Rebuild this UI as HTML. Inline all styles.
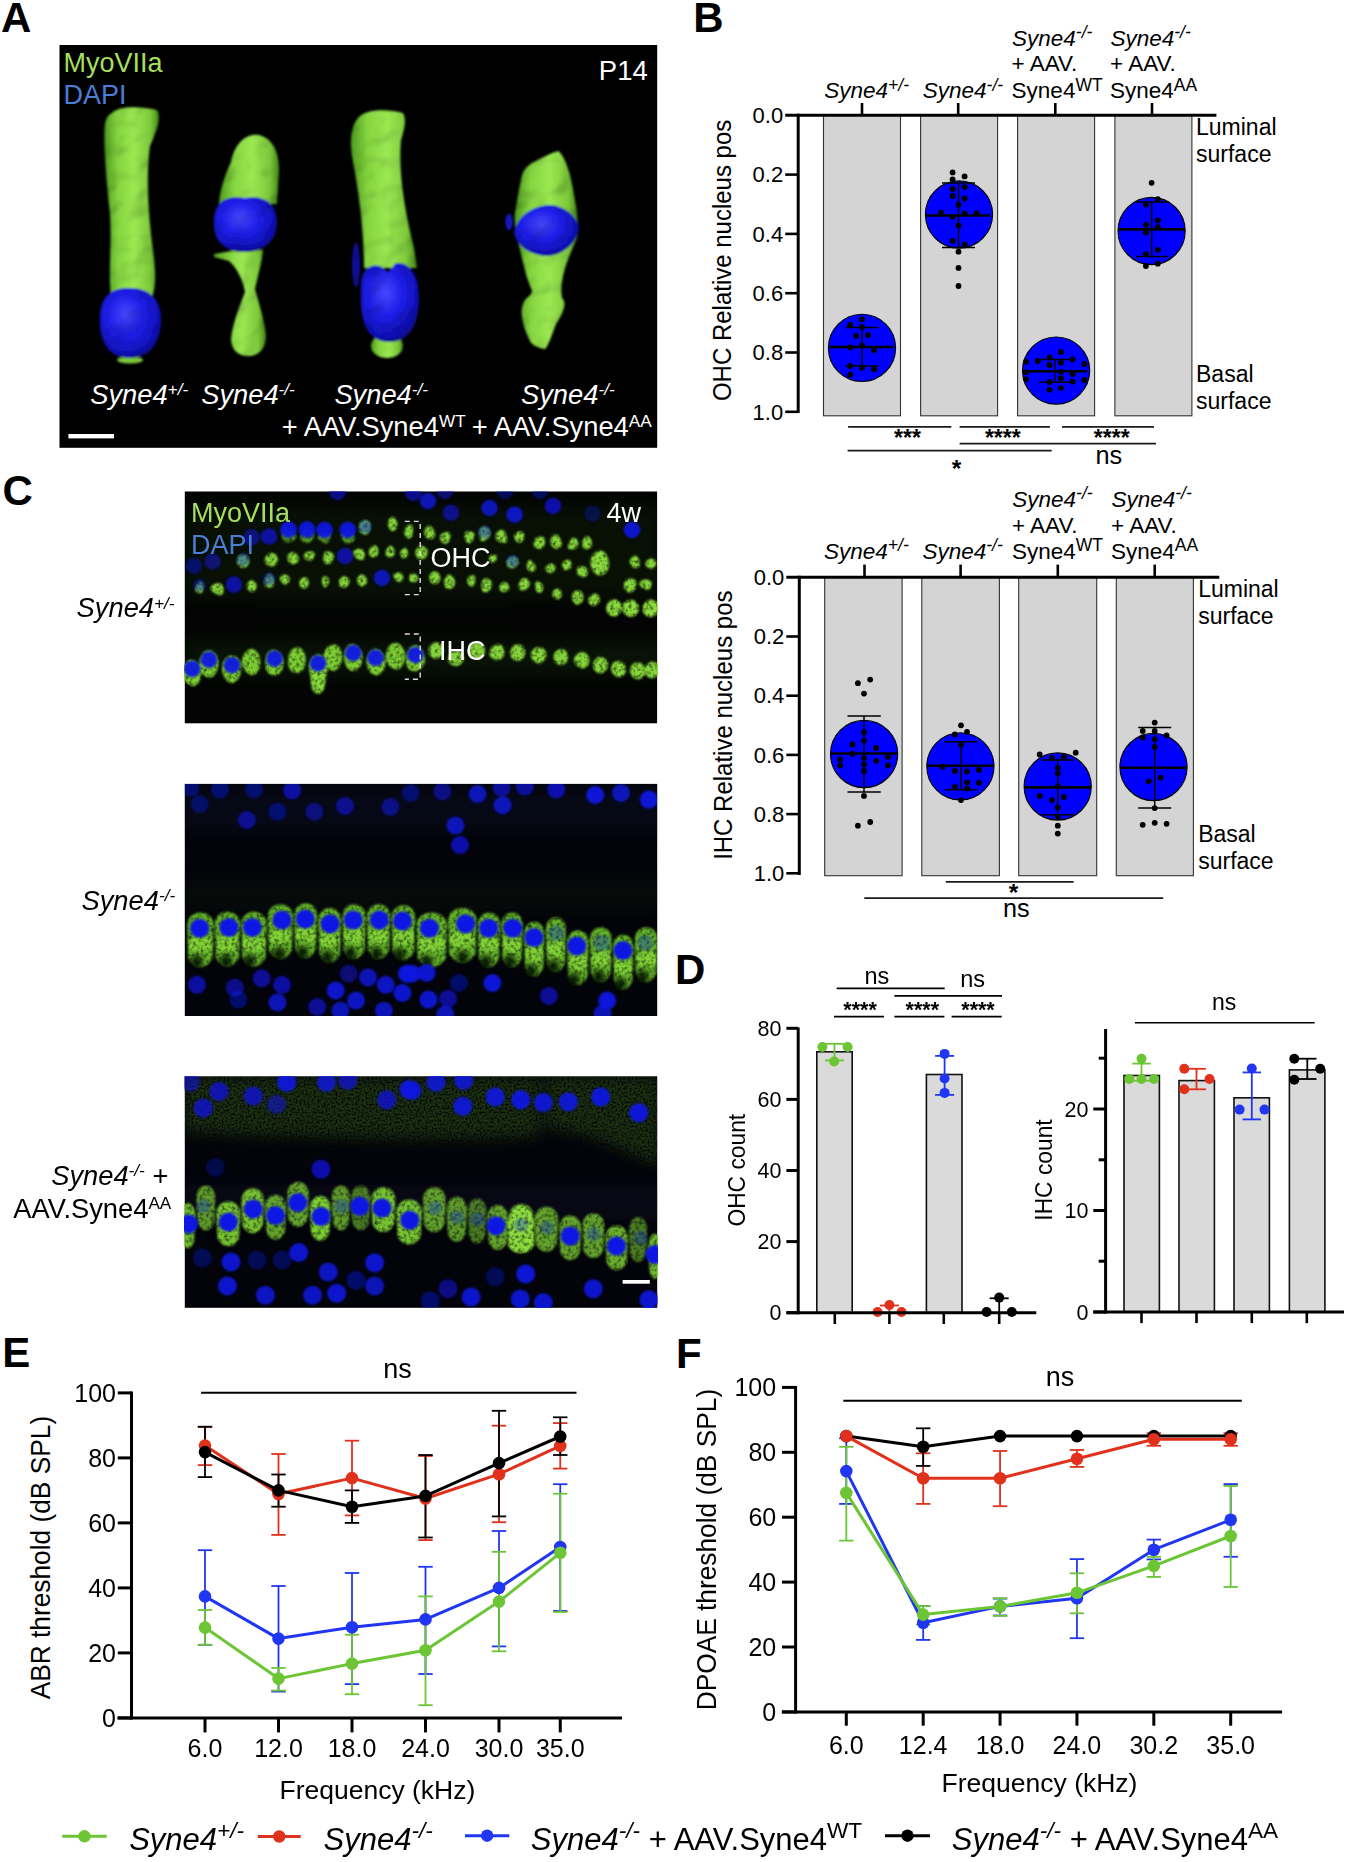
<!DOCTYPE html>
<html><head><meta charset="utf-8"><title>Figure</title>
<style>html,body{margin:0;padding:0;background:#fff;}svg{display:block;}text{font-family:"Liberation Sans", sans-serif;}</style>
</head><body>
<svg width="1350" height="1862" viewBox="0 0 1350 1862" font-family='"Liberation Sans", sans-serif'>
<defs>
<linearGradient id="gA" x1="0" y1="0" x2="1" y2="0">
<stop offset="0" stop-color="#4e9a1e"/><stop offset="0.25" stop-color="#86d640"/><stop offset="0.55" stop-color="#9be852"/><stop offset="0.85" stop-color="#7cc83a"/><stop offset="1" stop-color="#3f8416"/>
</linearGradient>
<radialGradient id="bA" cx="0.42" cy="0.38" r="0.65">
<stop offset="0" stop-color="#4747ff"/><stop offset="0.45" stop-color="#1e1ee8"/><stop offset="0.85" stop-color="#1010b8"/><stop offset="1" stop-color="#080880"/>
</radialGradient>
<filter id="soft" x="-20%" y="-20%" width="140%" height="140%"><feGaussianBlur stdDeviation="0.8"/></filter>
<filter id="bl1" x="-50%" y="-50%" width="200%" height="200%"><feGaussianBlur stdDeviation="1.2"/></filter>
<filter id="bl2" x="-50%" y="-50%" width="200%" height="200%"><feGaussianBlur stdDeviation="2.5"/></filter>
<filter id="bl4" x="-50%" y="-50%" width="200%" height="200%"><feGaussianBlur stdDeviation="5"/></filter>
<filter id="bl8" x="-50%" y="-50%" width="200%" height="200%"><feGaussianBlur stdDeviation="9"/></filter>
<radialGradient id="nucC" cx="0.5" cy="0.5" r="0.5">
<stop offset="0" stop-color="#2a2ae0"/><stop offset="0.8" stop-color="#2222d8"/><stop offset="1" stop-color="#1515a0"/>
</radialGradient>
<filter id="speck" x="0" y="0" width="1350" height="1862" filterUnits="userSpaceOnUse">
<feGaussianBlur in="SourceGraphic" stdDeviation="7" result="b"/>
<feTurbulence type="fractalNoise" baseFrequency="0.5" numOctaves="2" seed="5" result="n"/>
<feColorMatrix in="n" type="matrix" values="0 0 0 0 0  0 0 0 0 0  0 0 0 0 0  2.6 0 0 0 -0.6" result="m"/>
<feComposite in="b" in2="m" operator="in" result="c"/>
<feGaussianBlur in="c" stdDeviation="0.5"/>
</filter>
<filter id="speck2" x="0" y="0" width="1350" height="1862" filterUnits="userSpaceOnUse">
<feGaussianBlur in="SourceGraphic" stdDeviation="1.2" result="b"/>
<feTurbulence type="fractalNoise" baseFrequency="0.28" numOctaves="2" seed="9" result="n"/>
<feColorMatrix in="n" type="matrix" values="0 0 0 0 0  0 0 0 0 0  0 0 0 0 0  1.5 0 0 0 0.15" result="m"/>
<feComposite in="b" in2="m" operator="in"/>
</filter>
<filter id="bump" x="59" y="45" width="600" height="403" filterUnits="userSpaceOnUse">
<feTurbulence type="fractalNoise" baseFrequency="0.04" numOctaves="2" seed="4" result="t"/>
<feDiffuseLighting in="t" surfaceScale="4" diffuseConstant="1.2" lighting-color="#ffffff" result="l"><feDistantLight azimuth="235" elevation="55"/></feDiffuseLighting>
<feComposite in="SourceGraphic" in2="l" operator="arithmetic" k1="1" k2="0" k3="0" k4="0" result="m"/>
<feGaussianBlur in="m" stdDeviation="0.9"/>
</filter>
</defs>

<rect width="1350" height="1862" fill="#fff"/>
<text x="1.0" y="32.3" font-size="42" font-weight="bold" fill="#000">A</text>
<text x="693.3" y="32.0" font-size="42" font-weight="bold" fill="#000">B</text>
<text x="2.5" y="504.5" font-size="42" font-weight="bold" fill="#000">C</text>
<text x="675.0" y="984.0" font-size="42" font-weight="bold" fill="#000">D</text>
<text x="2.2" y="1367.3" font-size="42" font-weight="bold" fill="#000">E</text>
<text x="676.0" y="1367.6" font-size="42" font-weight="bold" fill="#000">F</text>
<rect x="59.5" y="45" width="597.7" height="402.8" fill="#000"/>
<g filter="url(#bump)">
<path d="M112,113 C118,106 140,106 157,110 C162,118 156,132 150,146 C146,175 148,215 153,250 C156,272 156,288 152,297 L111,297 C108,272 112,244 110,214 C106,176 103,140 105,124 C106,118 108,115 112,113 Z" fill="url(#gA)"/>
<ellipse cx="130" cy="360" rx="13" ry="3.5" fill="#7cc83a"/>
<path d="M100,318 C100,296 112,287 130,288 C150,288 162,300 161,322 C160,344 150,358 130,358 C110,358 99,344 100,318 Z" fill="url(#bA)"/>
<path d="M231,162 C235,142 247,133 259,135 C271,138 280,150 279,172 L277,204 L219,204 C220,188 226,173 231,162 Z" fill="url(#gA)"/>
<path d="M214,254 L232,251 L263,250 C262,262 258,275 255,289 C258,300 264,318 266,335 C266,350 258,356 248,356 C238,356 232,350 231,340 C232,325 240,305 245,292 C243,280 237,268 229,261 L214,257 Z" fill="url(#gA)"/>
<path d="M214,222 C214,202 226,195 245,198 C262,195 277,202 277,222 C277,242 264,252 245,252 C226,252 213,242 214,222 Z" fill="url(#bA)"/>
<path d="M358,118 C364,110 384,108 403,113 C407,120 404,130 401,140 C398,172 405,212 414,248 L417,268 L364,268 C364,232 359,192 353,162 C349,142 351,126 358,118 Z" fill="url(#gA)"/>
<ellipse cx="387" cy="346" rx="16" ry="12" fill="url(#gA)"/>
<ellipse cx="356" cy="265" rx="4" ry="22" fill="#10109a"/>
<path d="M361,290 C360,272 368,263 380,266 L388,272 L396,263 C410,262 419,275 419,298 C419,325 410,342 389,342 C370,342 361,326 361,300 Z" fill="url(#bA)"/>
<path d="M558.5,151 C566,158 571,175 574,195 C577,210 579,225 577,238 C572,250 566,262 563,276 C561,286 561,292 562,298 C567,303 564,312 556,324 C552,334 549,345 545,349 C538,348 532,345 530,341 C526,333 523,325 522,317 C521,310 522,305 525,300 C529,296 532,294 532,291 C529,283 526,276 525,270 C523,262 521,255 519,245 C516,232 514,222 515,213 C517,200 519,190 521,180 C522,172 526,166 534,162 C543,157 551,153 558.5,151 Z" fill="url(#gA)"/>
<ellipse cx="509" cy="222" rx="3.6" ry="8.5" fill="#1616c0"/>
<path d="M514,232 C518,214 536,205 550,205 C566,206 578,218 579,229 C576,244 562,256 546,256 C530,255 516,246 514,232 Z" fill="url(#bA)"/>
</g>
<text x="63.4" y="72.3" font-size="27" fill="#a6df5c">MyoVIIa</text>
<text x="63.4" y="103.7" font-size="27" fill="#4a7dd6">DAPI</text>
<text x="598.8" y="80.0" font-size="27.5" fill="#fff">P14</text>
<text x="90.2" y="403.6" font-size="27.3" fill="#fff"><tspan font-style="italic">Syne4</tspan><tspan font-style="italic" font-size="17.2" dy="-8.6">+/-</tspan></text>
<text x="201.2" y="403.6" font-size="27.3" fill="#fff"><tspan font-style="italic">Syne4</tspan><tspan font-style="italic" font-size="17.2" dy="-8.6">-/-</tspan></text>
<text x="334.4" y="403.6" font-size="27.3" fill="#fff"><tspan font-style="italic">Syne4</tspan><tspan font-style="italic" font-size="17.2" dy="-8.6">-/-</tspan></text>
<text x="521.0" y="403.6" font-size="27.3" fill="#fff"><tspan font-style="italic">Syne4</tspan><tspan font-style="italic" font-size="17.2" dy="-8.6">-/-</tspan></text>
<text x="281.8" y="435.9" font-size="27.3" fill="#fff"><tspan>+ AAV.</tspan><tspan>Syne4</tspan><tspan font-size="17.2" dy="-8.6">WT</tspan></text>
<text x="471.7" y="435.9" font-size="27.3" fill="#fff"><tspan>+ AAV.</tspan><tspan>Syne4</tspan><tspan font-size="17.2" dy="-8.6">AA</tspan></text>
<rect x="68.4" y="434" width="45.6" height="4.4" fill="#fff"/>
<rect x="823.5" y="115.3" width="77.0" height="300.5" fill="#d4d4d4" stroke="#333" stroke-width="1.1"/>
<rect x="920.6" y="115.3" width="77.0" height="300.5" fill="#d4d4d4" stroke="#333" stroke-width="1.1"/>
<rect x="1017.6" y="115.3" width="76.99999999999989" height="300.5" fill="#d4d4d4" stroke="#333" stroke-width="1.1"/>
<rect x="1114.9" y="115.3" width="77.0" height="300.5" fill="#d4d4d4" stroke="#333" stroke-width="1.1"/>
<circle cx="862" cy="347.9" r="33.6" fill="#0000ff" stroke="#000" stroke-width="1.1"/>
<line x1="830" y1="347" x2="893.5" y2="347" stroke="#000" stroke-width="2.6"/>
<line x1="862" y1="327.5" x2="862" y2="366" stroke="#000" stroke-width="1.5"/>
<line x1="845.5" y1="327.5" x2="878.6" y2="327.5" stroke="#000" stroke-width="1.5"/>
<line x1="845.5" y1="366" x2="878.6" y2="366" stroke="#000" stroke-width="1.5"/>
<circle cx="862" cy="319.2" r="2.9" fill="#000"/>
<circle cx="850.2" cy="324.8" r="2.9" fill="#000"/>
<circle cx="862" cy="327" r="2.9" fill="#000"/>
<circle cx="856.1" cy="335.8" r="2.9" fill="#000"/>
<circle cx="868" cy="335.1" r="2.9" fill="#000"/>
<circle cx="850.2" cy="347.4" r="2.9" fill="#000"/>
<circle cx="862" cy="345.7" r="2.9" fill="#000"/>
<circle cx="874" cy="350" r="2.9" fill="#000"/>
<circle cx="850.2" cy="366" r="2.9" fill="#000"/>
<circle cx="862" cy="367.7" r="2.9" fill="#000"/>
<circle cx="874" cy="369.3" r="2.9" fill="#000"/>
<circle cx="850.2" cy="374.7" r="2.9" fill="#000"/>
<circle cx="959" cy="214.5" r="33.6" fill="#0000ff" stroke="#000" stroke-width="1.1"/>
<line x1="925.9" y1="215.5" x2="990.2" y2="215.5" stroke="#000" stroke-width="2.6"/>
<line x1="958.5" y1="183" x2="958.5" y2="247.6" stroke="#000" stroke-width="1.5"/>
<line x1="942" y1="183" x2="975" y2="183" stroke="#000" stroke-width="1.5"/>
<line x1="942" y1="247.6" x2="975" y2="247.6" stroke="#000" stroke-width="1.5"/>
<circle cx="952.6" cy="172.4" r="2.9" fill="#000"/>
<circle cx="964.6" cy="176.4" r="2.9" fill="#000"/>
<circle cx="952.6" cy="179.5" r="2.9" fill="#000"/>
<circle cx="964.6" cy="187" r="2.9" fill="#000"/>
<circle cx="952.6" cy="189" r="2.9" fill="#000"/>
<circle cx="952.6" cy="196" r="2.9" fill="#000"/>
<circle cx="964.6" cy="198.5" r="2.9" fill="#000"/>
<circle cx="958.5" cy="204.7" r="2.9" fill="#000"/>
<circle cx="941" cy="212.6" r="2.9" fill="#000"/>
<circle cx="964.6" cy="213.5" r="2.9" fill="#000"/>
<circle cx="976.7" cy="213.2" r="2.9" fill="#000"/>
<circle cx="952.6" cy="216.8" r="2.9" fill="#000"/>
<circle cx="958.5" cy="225.4" r="2.9" fill="#000"/>
<circle cx="952.6" cy="241" r="2.9" fill="#000"/>
<circle cx="964.6" cy="244.6" r="2.9" fill="#000"/>
<circle cx="958.5" cy="251.7" r="2.9" fill="#000"/>
<circle cx="958.5" cy="267.9" r="2.9" fill="#000"/>
<circle cx="958.5" cy="286" r="2.9" fill="#000"/>
<circle cx="1056.1" cy="370.6" r="33.6" fill="#0000ff" stroke="#000" stroke-width="1.1"/>
<line x1="1022.5" y1="371.2" x2="1087" y2="371.2" stroke="#000" stroke-width="2.6"/>
<line x1="1055" y1="359.4" x2="1055" y2="382.3" stroke="#000" stroke-width="1.5"/>
<line x1="1039" y1="359.4" x2="1073" y2="359.4" stroke="#000" stroke-width="1.5"/>
<line x1="1039" y1="382.3" x2="1073" y2="382.3" stroke="#000" stroke-width="1.5"/>
<circle cx="1060.9" cy="352" r="2.9" fill="#000"/>
<circle cx="1049.5" cy="357.5" r="2.9" fill="#000"/>
<circle cx="1037.7" cy="361" r="2.9" fill="#000"/>
<circle cx="1072.6" cy="359.4" r="2.9" fill="#000"/>
<circle cx="1026" cy="361.7" r="2.9" fill="#000"/>
<circle cx="1049.5" cy="365" r="2.9" fill="#000"/>
<circle cx="1060.9" cy="362.7" r="2.9" fill="#000"/>
<circle cx="1084.4" cy="364" r="2.9" fill="#000"/>
<circle cx="1026" cy="372.2" r="2.9" fill="#000"/>
<circle cx="1060.9" cy="371.8" r="2.9" fill="#000"/>
<circle cx="1072.6" cy="374.1" r="2.9" fill="#000"/>
<circle cx="1026" cy="379.3" r="2.9" fill="#000"/>
<circle cx="1060.9" cy="378.3" r="2.9" fill="#000"/>
<circle cx="1049.5" cy="381.9" r="2.9" fill="#000"/>
<circle cx="1072.6" cy="381.6" r="2.9" fill="#000"/>
<circle cx="1084.4" cy="380" r="2.9" fill="#000"/>
<circle cx="1049.5" cy="389.8" r="2.9" fill="#000"/>
<circle cx="1060.9" cy="388.1" r="2.9" fill="#000"/>
<circle cx="1151.6" cy="231" r="33.6" fill="#0000ff" stroke="#000" stroke-width="1.1"/>
<line x1="1118.5" y1="229.4" x2="1185" y2="229.4" stroke="#000" stroke-width="2.6"/>
<line x1="1151.6" y1="202" x2="1151.6" y2="256.4" stroke="#000" stroke-width="1.5"/>
<line x1="1136" y1="202" x2="1168.6" y2="202" stroke="#000" stroke-width="1.5"/>
<line x1="1136" y1="256.4" x2="1168.6" y2="256.4" stroke="#000" stroke-width="1.5"/>
<circle cx="1151.6" cy="182.8" r="2.9" fill="#000"/>
<circle cx="1157.8" cy="199.2" r="2.9" fill="#000"/>
<circle cx="1145.9" cy="204.6" r="2.9" fill="#000"/>
<circle cx="1157.8" cy="220.4" r="2.9" fill="#000"/>
<circle cx="1145.9" cy="224.8" r="2.9" fill="#000"/>
<circle cx="1157.8" cy="227.1" r="2.9" fill="#000"/>
<circle cx="1145.9" cy="232.5" r="2.9" fill="#000"/>
<circle cx="1157.8" cy="249.8" r="2.9" fill="#000"/>
<circle cx="1145.9" cy="254.1" r="2.9" fill="#000"/>
<circle cx="1157.8" cy="263.7" r="2.9" fill="#000"/>
<circle cx="1145.9" cy="266" r="2.9" fill="#000"/>
<line x1="798.2" y1="113.8" x2="798.2" y2="413.0" stroke="#000" stroke-width="3"/>
<line x1="785.2" y1="115.3" x2="1216.4" y2="115.3" stroke="#000" stroke-width="3"/>
<line x1="785.2" y1="174.6" x2="798.2" y2="174.6" stroke="#000" stroke-width="2.6"/>
<line x1="785.2" y1="233.9" x2="798.2" y2="233.9" stroke="#000" stroke-width="2.6"/>
<line x1="785.2" y1="293.20000000000005" x2="798.2" y2="293.20000000000005" stroke="#000" stroke-width="2.6"/>
<line x1="785.2" y1="352.5" x2="798.2" y2="352.5" stroke="#000" stroke-width="2.6"/>
<line x1="785.2" y1="411.8" x2="798.2" y2="411.8" stroke="#000" stroke-width="2.6"/>
<text x="783.2" y="123.0" font-size="22" text-anchor="end" fill="#000">0.0</text>
<text x="783.2" y="182.3" font-size="22" text-anchor="end" fill="#000">0.2</text>
<text x="783.2" y="241.6" font-size="22" text-anchor="end" fill="#000">0.4</text>
<text x="783.2" y="300.9" font-size="22" text-anchor="end" fill="#000">0.6</text>
<text x="783.2" y="360.2" font-size="22" text-anchor="end" fill="#000">0.8</text>
<text x="783.2" y="419.5" font-size="22" text-anchor="end" fill="#000">1.0</text>
<line x1="862" y1="103" x2="862" y2="115.3" stroke="#000" stroke-width="2.6"/>
<line x1="958.2" y1="103" x2="958.2" y2="115.3" stroke="#000" stroke-width="2.6"/>
<line x1="1055.3" y1="103" x2="1055.3" y2="115.3" stroke="#000" stroke-width="2.6"/>
<line x1="1152" y1="103" x2="1152" y2="115.3" stroke="#000" stroke-width="2.6"/>
<text x="0" y="0" font-size="24" text-anchor="middle" transform="translate(731.3,260.4) rotate(-90) scale(1,1.06)">OHC Relative nucleus pos</text>
<text x="824.3" y="98.1" font-size="22.5" fill="#000"><tspan font-style="italic">Syne4</tspan><tspan font-style="italic" font-size="17.5" dy="-7.6">+/-</tspan></text>
<text x="922.8" y="98.1" font-size="22.5" fill="#000"><tspan font-style="italic">Syne4</tspan><tspan font-style="italic" font-size="17.5" dy="-7.6">-/-</tspan></text>
<text x="1012.0" y="45.7" font-size="22.5" fill="#000"><tspan font-style="italic">Syne4</tspan><tspan font-style="italic" font-size="17.5" dy="-7.6">-/-</tspan></text>
<text x="1011.6" y="71.2" font-size="22.5" fill="#000">+ AAV.</text>
<text x="1011.6" y="98.1" font-size="22.5" fill="#000"><tspan>Syne4</tspan><tspan font-size="17.5" dy="-7.6">WT</tspan></text>
<text x="1110.4" y="45.7" font-size="22.5" fill="#000"><tspan font-style="italic">Syne4</tspan><tspan font-style="italic" font-size="17.5" dy="-7.6">-/-</tspan></text>
<text x="1110.0" y="71.2" font-size="22.5" fill="#000">+ AAV.</text>
<text x="1110.0" y="98.1" font-size="22.5" fill="#000"><tspan>Syne4</tspan><tspan font-size="17.5" dy="-7.6">AA</tspan></text>
<text x="1196.0" y="135.2" font-size="23" fill="#000">Luminal</text>
<text x="1196.0" y="162.2" font-size="23" fill="#000">surface</text>
<text x="1196.0" y="381.6" font-size="23" fill="#000">Basal</text>
<text x="1196.0" y="408.6" font-size="23" fill="#000">surface</text>
<line x1="848.1" y1="426.9" x2="951.3" y2="426.9" stroke="#1a1a1a" stroke-width="1.8"/>
<line x1="959.6" y1="426.9" x2="1049.9" y2="426.9" stroke="#1a1a1a" stroke-width="1.8"/>
<line x1="1062" y1="426.9" x2="1154" y2="426.9" stroke="#1a1a1a" stroke-width="1.8"/>
<line x1="959.6" y1="443.7" x2="1156" y2="443.7" stroke="#1a1a1a" stroke-width="1.8"/>
<line x1="847.6" y1="450.7" x2="1051.7" y2="450.7" stroke="#1a1a1a" stroke-width="1.8"/>
<text x="907.5" y="445.9" font-size="23" font-weight="bold" text-anchor="middle" fill="#000">***</text>
<text x="1002.8" y="445.9" font-size="23" font-weight="bold" text-anchor="middle" fill="#000">****</text>
<text x="1111.7" y="445.9" font-size="23" font-weight="bold" text-anchor="middle" fill="#000">****</text>
<text x="1108.9" y="463.6" font-size="25.3" text-anchor="middle" fill="#000">ns</text>
<text x="956.6" y="476.6" font-size="24.5" font-weight="bold" text-anchor="middle" fill="#000">*</text>
<rect x="824.7" y="577.3" width="77.39999999999998" height="298.4000000000001" fill="#d4d4d4" stroke="#333" stroke-width="1.1"/>
<rect x="921.8" y="577.3" width="77.60000000000002" height="298.4000000000001" fill="#d4d4d4" stroke="#333" stroke-width="1.1"/>
<rect x="1018.7" y="577.3" width="78.0" height="298.4000000000001" fill="#d4d4d4" stroke="#333" stroke-width="1.1"/>
<rect x="1116.3" y="577.3" width="77.10000000000014" height="298.4000000000001" fill="#d4d4d4" stroke="#333" stroke-width="1.1"/>
<circle cx="864.1" cy="754" r="33.6" fill="#0000ff" stroke="#000" stroke-width="1.1"/>
<line x1="830.5" y1="753.5" x2="897.5" y2="753.5" stroke="#000" stroke-width="2.6"/>
<line x1="864" y1="716.1" x2="864" y2="791.9" stroke="#000" stroke-width="1.5"/>
<line x1="847.5" y1="716.1" x2="880.8" y2="716.1" stroke="#000" stroke-width="1.5"/>
<line x1="847.5" y1="791.9" x2="880.8" y2="791.9" stroke="#000" stroke-width="1.5"/>
<circle cx="857.9" cy="683.2" r="2.9" fill="#000"/>
<circle cx="870.2" cy="679.6" r="2.9" fill="#000"/>
<circle cx="864" cy="693.6" r="2.9" fill="#000"/>
<circle cx="864" cy="732.5" r="2.9" fill="#000"/>
<circle cx="864" cy="740.8" r="2.9" fill="#000"/>
<circle cx="852.5" cy="744.4" r="2.9" fill="#000"/>
<circle cx="876.2" cy="748" r="2.9" fill="#000"/>
<circle cx="852.5" cy="753.9" r="2.9" fill="#000"/>
<circle cx="840.2" cy="759.4" r="2.9" fill="#000"/>
<circle cx="840.2" cy="765.4" r="2.9" fill="#000"/>
<circle cx="864" cy="758.1" r="2.9" fill="#000"/>
<circle cx="876.2" cy="760.8" r="2.9" fill="#000"/>
<circle cx="888" cy="756.8" r="2.9" fill="#000"/>
<circle cx="888" cy="765.4" r="2.9" fill="#000"/>
<circle cx="864" cy="764.5" r="2.9" fill="#000"/>
<circle cx="864" cy="770.9" r="2.9" fill="#000"/>
<circle cx="864" cy="795.9" r="2.9" fill="#000"/>
<circle cx="857.9" cy="825.7" r="2.9" fill="#000"/>
<circle cx="870.2" cy="822" r="2.9" fill="#000"/>
<circle cx="960.4" cy="766.4" r="33.6" fill="#0000ff" stroke="#000" stroke-width="1.1"/>
<line x1="927" y1="765.8" x2="993.5" y2="765.8" stroke="#000" stroke-width="2.6"/>
<line x1="961" y1="741.7" x2="961" y2="789.7" stroke="#000" stroke-width="1.5"/>
<line x1="944.6" y1="741.7" x2="977.5" y2="741.7" stroke="#000" stroke-width="1.5"/>
<line x1="944.6" y1="789.7" x2="977.5" y2="789.7" stroke="#000" stroke-width="1.5"/>
<circle cx="961" cy="725.3" r="2.9" fill="#000"/>
<circle cx="954.8" cy="734.4" r="2.9" fill="#000"/>
<circle cx="967" cy="732" r="2.9" fill="#000"/>
<circle cx="961" cy="744.8" r="2.9" fill="#000"/>
<circle cx="942.8" cy="766.7" r="2.9" fill="#000"/>
<circle cx="954.8" cy="770.9" r="2.9" fill="#000"/>
<circle cx="967" cy="771.5" r="2.9" fill="#000"/>
<circle cx="978.9" cy="770" r="2.9" fill="#000"/>
<circle cx="967" cy="782.4" r="2.9" fill="#000"/>
<circle cx="978.9" cy="782.8" r="2.9" fill="#000"/>
<circle cx="954.8" cy="786.8" r="2.9" fill="#000"/>
<circle cx="967" cy="788.6" r="2.9" fill="#000"/>
<circle cx="961" cy="800.1" r="2.9" fill="#000"/>
<circle cx="1057.7" cy="786.5" r="33.6" fill="#0000ff" stroke="#000" stroke-width="1.1"/>
<line x1="1024.5" y1="787.4" x2="1091" y2="787.4" stroke="#000" stroke-width="2.6"/>
<line x1="1057.8" y1="760" x2="1057.8" y2="814.7" stroke="#000" stroke-width="1.5"/>
<line x1="1041.9" y1="760" x2="1073.9" y2="760" stroke="#000" stroke-width="1.5"/>
<line x1="1041.9" y1="814.7" x2="1073.9" y2="814.7" stroke="#000" stroke-width="1.5"/>
<circle cx="1039.7" cy="754.5" r="2.9" fill="#000"/>
<circle cx="1075.7" cy="752.7" r="2.9" fill="#000"/>
<circle cx="1052" cy="758.1" r="2.9" fill="#000"/>
<circle cx="1063.8" cy="756.9" r="2.9" fill="#000"/>
<circle cx="1057.8" cy="767.8" r="2.9" fill="#000"/>
<circle cx="1057.8" cy="773.3" r="2.9" fill="#000"/>
<circle cx="1057.8" cy="786.1" r="2.9" fill="#000"/>
<circle cx="1039.7" cy="796" r="2.9" fill="#000"/>
<circle cx="1052" cy="800.1" r="2.9" fill="#000"/>
<circle cx="1063.8" cy="797" r="2.9" fill="#000"/>
<circle cx="1057.8" cy="807.4" r="2.9" fill="#000"/>
<circle cx="1057.8" cy="817.1" r="2.9" fill="#000"/>
<circle cx="1057.8" cy="825.7" r="2.9" fill="#000"/>
<circle cx="1057.8" cy="833.6" r="2.9" fill="#000"/>
<circle cx="1153.5" cy="767" r="33.6" fill="#0000ff" stroke="#000" stroke-width="1.1"/>
<line x1="1120.5" y1="767.8" x2="1186.5" y2="767.8" stroke="#000" stroke-width="2.6"/>
<line x1="1154.7" y1="727.6" x2="1154.7" y2="808.1" stroke="#000" stroke-width="1.5"/>
<line x1="1138.2" y1="727.6" x2="1171.2" y2="727.6" stroke="#000" stroke-width="1.5"/>
<line x1="1138.2" y1="808.1" x2="1171.2" y2="808.1" stroke="#000" stroke-width="1.5"/>
<circle cx="1154.7" cy="722.6" r="2.9" fill="#000"/>
<circle cx="1142.7" cy="731" r="2.9" fill="#000"/>
<circle cx="1154.7" cy="731" r="2.9" fill="#000"/>
<circle cx="1142.7" cy="737.5" r="2.9" fill="#000"/>
<circle cx="1166.6" cy="735.3" r="2.9" fill="#000"/>
<circle cx="1154.7" cy="739.3" r="2.9" fill="#000"/>
<circle cx="1154.7" cy="746.9" r="2.9" fill="#000"/>
<circle cx="1160.6" cy="777.7" r="2.9" fill="#000"/>
<circle cx="1148.7" cy="781.3" r="2.9" fill="#000"/>
<circle cx="1154.7" cy="808.1" r="2.9" fill="#000"/>
<circle cx="1142.7" cy="824.8" r="2.9" fill="#000"/>
<circle cx="1154.7" cy="822.8" r="2.9" fill="#000"/>
<circle cx="1166.6" cy="823.8" r="2.9" fill="#000"/>
<line x1="799.3" y1="575.8" x2="799.3" y2="875.0" stroke="#000" stroke-width="3"/>
<line x1="786.3" y1="577.3" x2="1219.3" y2="577.3" stroke="#000" stroke-width="3"/>
<line x1="786.3" y1="636.5" x2="799.3" y2="636.5" stroke="#000" stroke-width="2.6"/>
<line x1="786.3" y1="695.6999999999999" x2="799.3" y2="695.6999999999999" stroke="#000" stroke-width="2.6"/>
<line x1="786.3" y1="754.9" x2="799.3" y2="754.9" stroke="#000" stroke-width="2.6"/>
<line x1="786.3" y1="814.0999999999999" x2="799.3" y2="814.0999999999999" stroke="#000" stroke-width="2.6"/>
<line x1="786.3" y1="873.3" x2="799.3" y2="873.3" stroke="#000" stroke-width="2.6"/>
<text x="784.3" y="585.0" font-size="22" text-anchor="end" fill="#000">0.0</text>
<text x="784.3" y="644.2" font-size="22" text-anchor="end" fill="#000">0.2</text>
<text x="784.3" y="703.4" font-size="22" text-anchor="end" fill="#000">0.4</text>
<text x="784.3" y="762.6" font-size="22" text-anchor="end" fill="#000">0.6</text>
<text x="784.3" y="821.8" font-size="22" text-anchor="end" fill="#000">0.8</text>
<text x="784.3" y="881.0" font-size="22" text-anchor="end" fill="#000">1.0</text>
<line x1="864.5" y1="564.6" x2="864.5" y2="577.3" stroke="#000" stroke-width="2.6"/>
<line x1="960.6" y1="564.6" x2="960.6" y2="577.3" stroke="#000" stroke-width="2.6"/>
<line x1="1057.8" y1="564.6" x2="1057.8" y2="577.3" stroke="#000" stroke-width="2.6"/>
<line x1="1154.7" y1="564.6" x2="1154.7" y2="577.3" stroke="#000" stroke-width="2.6"/>
<text x="0" y="0" font-size="24" text-anchor="middle" transform="translate(731.5,725.2) rotate(-90) scale(1,1.06)">IHC Relative nucleus pos</text>
<text x="824.0" y="558.5" font-size="22.5" fill="#000"><tspan font-style="italic">Syne4</tspan><tspan font-style="italic" font-size="17.5" dy="-7.6">+/-</tspan></text>
<text x="922.4" y="558.5" font-size="22.5" fill="#000"><tspan font-style="italic">Syne4</tspan><tspan font-style="italic" font-size="17.5" dy="-7.6">-/-</tspan></text>
<text x="1012.3" y="506.9" font-size="22.5" fill="#000"><tspan font-style="italic">Syne4</tspan><tspan font-style="italic" font-size="17.5" dy="-7.6">-/-</tspan></text>
<text x="1011.9" y="532.7" font-size="22.5" fill="#000">+ AAV.</text>
<text x="1011.9" y="558.5" font-size="22.5" fill="#000"><tspan>Syne4</tspan><tspan font-size="17.5" dy="-7.6">WT</tspan></text>
<text x="1111.4" y="506.9" font-size="22.5" fill="#000"><tspan font-style="italic">Syne4</tspan><tspan font-style="italic" font-size="17.5" dy="-7.6">-/-</tspan></text>
<text x="1111.0" y="532.7" font-size="22.5" fill="#000">+ AAV.</text>
<text x="1111.0" y="558.5" font-size="22.5" fill="#000"><tspan>Syne4</tspan><tspan font-size="17.5" dy="-7.6">AA</tspan></text>
<text x="1198.2" y="596.8" font-size="23" fill="#000">Luminal</text>
<text x="1198.2" y="623.8" font-size="23" fill="#000">surface</text>
<text x="1198.2" y="841.7" font-size="23" fill="#000">Basal</text>
<text x="1198.2" y="868.7" font-size="23" fill="#000">surface</text>
<line x1="945.8" y1="881.8" x2="1073.6" y2="881.8" stroke="#1a1a1a" stroke-width="1.8"/>
<line x1="864.3" y1="898.1" x2="1163.2" y2="898.1" stroke="#1a1a1a" stroke-width="1.8"/>
<text x="1013.4" y="901.2" font-size="24.5" font-weight="bold" text-anchor="middle" fill="#000">*</text>
<text x="1016.3" y="916.7" font-size="25.2" text-anchor="middle" fill="#000">ns</text>
<clipPath id="cpC1"><rect x="184.8" y="491.5" width="472.3" height="231.79999999999995"/></clipPath>
<rect x="184.8" y="491.5" width="472.3" height="231.79999999999995" fill="#030403"/>
<g clip-path="url(#cpC1)">
<g filter="url(#bl8)" opacity="0.22">
<rect x="184" y="505" width="480" height="95" fill="#1a3a10"/>
<rect x="184" y="640" width="480" height="35" fill="#1f4a12"/>
</g>
<g filter="url(#bl1)">
<circle cx="428" cy="501" r="8.3" fill="#0e16e2" opacity="0.8"/>
<circle cx="451" cy="512.7" r="8.3" fill="#0e16e2" opacity="0.6"/>
<circle cx="489.6" cy="508" r="8.3" fill="#0e16e2" opacity="0.8"/>
<circle cx="514.6" cy="514.7" r="8.3" fill="#0e16e2" opacity="0.85"/>
<circle cx="553" cy="506" r="8.3" fill="#0e16e2" opacity="0.75"/>
<circle cx="632" cy="530" r="8.3" fill="#0e16e2" opacity="0.9"/>
<circle cx="592.6" cy="513.7" r="8.3" fill="#0e16e2" opacity="0.3"/>
<circle cx="337.6" cy="492" r="8.3" fill="#0e16e2" opacity="0.6"/>
<circle cx="413.5" cy="493" r="8.3" fill="#0e16e2" opacity="0.6"/>
<circle cx="251.5" cy="537.4" r="8.3" fill="#0e16e2" opacity="0.55"/>
<circle cx="269" cy="536.5" r="8.3" fill="#0e16e2" opacity="0.7"/>
<circle cx="194" cy="566" r="8.3" fill="#0e16e2" opacity="0.45"/>
<circle cx="212.6" cy="561.5" r="8.3" fill="#0e16e2" opacity="0.5"/>
<circle cx="233.9" cy="584.6" r="8.3" fill="#0e16e2" opacity="0.7"/>
<circle cx="382" cy="578" r="8.3" fill="#0e16e2" opacity="0.8"/>
<circle cx="345" cy="556" r="8.3" fill="#0e16e2" opacity="0.7"/>
<circle cx="445" cy="491" r="8.3" fill="#0e16e2" opacity="0.5"/>
<circle cx="505" cy="491" r="8.3" fill="#0e16e2" opacity="0.4"/>
<circle cx="540" cy="491" r="8.3" fill="#0e16e2" opacity="0.4"/>
</g>
<g filter="url(#speck2)">
<path d="M288.2,542.4 Q284.7,542.8 283.2,540.0 Q281.7,537.3 281.7,534.2 Q281.7,531.1 285.2,530.3 Q288.6,529.5 291.7,530.6 Q294.7,531.7 295.9,534.8 Q297.1,537.9 294.3,539.9 Q291.6,542.0 288.2,542.4Z" fill="#5fa828" opacity="0.9"/>
<path d="M314.0,534.5 Q314.4,537.6 312.6,540.3 Q310.7,543.1 306.9,543.0 Q303.1,542.9 301.3,540.2 Q299.5,537.4 300.8,534.9 Q302.0,532.4 304.6,530.4 Q307.1,528.3 310.3,529.9 Q313.5,531.5 314.0,534.5Z" fill="#5fa828" opacity="0.9"/>
<path d="M318.5,535.4 Q320.4,533.2 323.0,531.9 Q325.5,530.7 328.4,532.0 Q331.2,533.4 330.7,536.1 Q330.2,538.8 328.8,541.6 Q327.4,544.5 324.3,543.1 Q321.2,541.7 318.9,539.7 Q316.6,537.7 318.5,535.4Z" fill="#5fa828" opacity="0.9"/>
<path d="M354.4,540.0 Q353.1,543.0 349.5,543.5 Q345.9,543.9 344.0,541.7 Q342.0,539.4 341.1,536.6 Q340.2,533.7 343.2,532.2 Q346.3,530.8 349.2,531.5 Q352.2,532.2 353.9,534.6 Q355.6,537.1 354.4,540.0Z" fill="#5fa828" opacity="0.9"/>
<path d="M359.2,529.4 Q358.0,525.3 360.8,522.1 Q363.7,519.0 367.2,520.6 Q370.7,522.1 370.7,526.0 Q370.7,529.9 368.8,532.7 Q366.8,535.5 363.6,534.5 Q360.4,533.6 359.2,529.4Z" fill="#86d63a" opacity="1.0"/>
<path d="M387.7,523.8 Q387.5,520.1 390.3,518.0 Q393.1,515.8 395.3,518.4 Q397.5,521.0 397.6,524.2 Q397.7,527.3 395.3,529.9 Q392.9,532.5 390.4,530.0 Q387.8,527.4 387.7,523.8Z" fill="#86d63a" opacity="1.0"/>
<path d="M404.3,533.5 Q403.9,530.1 405.3,527.6 Q406.8,525.0 409.9,524.8 Q413.1,524.6 413.1,528.2 Q413.1,531.8 412.3,535.6 Q411.4,539.4 408.0,538.2 Q404.6,537.0 404.3,533.5Z" fill="#86d63a" opacity="1.0"/>
<path d="M426.6,526.7 Q429.2,524.2 431.8,526.9 Q434.4,529.6 435.0,533.8 Q435.5,538.0 432.1,538.8 Q428.7,539.6 426.5,537.8 Q424.2,535.9 424.1,532.6 Q423.9,529.2 426.6,526.7Z" fill="#86d63a" opacity="1.0"/>
<path d="M447.1,532.1 Q450.2,532.0 450.4,535.8 Q450.6,539.5 448.7,542.0 Q446.8,544.5 444.0,543.6 Q441.1,542.8 440.1,539.3 Q439.2,535.8 441.6,534.0 Q444.0,532.1 447.1,532.1Z" fill="#86d63a" opacity="1.0"/>
<path d="M472.6,532.0 Q475.2,533.3 474.4,536.8 Q473.6,540.2 470.8,542.6 Q468.0,545.0 466.1,541.6 Q464.2,538.1 464.6,534.9 Q465.0,531.6 467.5,531.2 Q470.1,530.7 472.6,532.0Z" fill="#86d63a" opacity="1.0"/>
<path d="M484.1,526.6 Q487.7,526.5 489.5,530.0 Q491.3,533.4 489.6,536.5 Q487.8,539.5 484.6,541.0 Q481.3,542.5 479.8,538.5 Q478.4,534.6 479.5,530.7 Q480.5,526.7 484.1,526.6Z" fill="#86d63a" opacity="1.0"/>
<path d="M507.2,539.0 Q507.8,543.0 504.3,542.9 Q500.9,542.9 497.9,541.2 Q494.8,539.5 495.8,535.3 Q496.7,531.1 500.1,530.1 Q503.4,529.1 505.0,532.1 Q506.6,535.0 507.2,539.0Z" fill="#86d63a" opacity="1.0"/>
<path d="M524.3,536.5 Q524.1,540.5 521.3,542.2 Q518.6,544.0 516.5,541.8 Q514.4,539.7 514.2,536.8 Q514.1,533.9 516.2,532.4 Q518.4,531.0 521.5,531.8 Q524.5,532.5 524.3,536.5Z" fill="#86d63a" opacity="1.0"/>
<path d="M535.8,547.9 Q532.9,545.7 533.7,542.2 Q534.5,538.8 536.6,537.5 Q538.7,536.2 541.9,536.6 Q545.1,537.1 545.1,541.5 Q545.1,545.9 541.9,548.0 Q538.8,550.1 535.8,547.9Z" fill="#86d63a" opacity="1.0"/>
<path d="M559.4,547.9 Q556.7,550.0 554.0,548.3 Q551.2,546.7 550.4,543.0 Q549.6,539.2 552.4,536.2 Q555.2,533.2 558.2,535.6 Q561.2,538.1 561.7,541.9 Q562.1,545.8 559.4,547.9Z" fill="#86d63a" opacity="1.0"/>
<path d="M568.1,545.2 Q569.1,541.4 570.9,539.3 Q572.7,537.1 575.5,538.2 Q578.3,539.3 578.4,542.8 Q578.6,546.4 576.2,548.3 Q573.9,550.2 570.5,549.6 Q567.0,549.1 568.1,545.2Z" fill="#86d63a" opacity="1.0"/>
<path d="M589.5,537.3 Q592.0,539.9 592.1,542.9 Q592.2,545.9 590.3,547.8 Q588.4,549.7 585.4,548.9 Q582.5,548.2 582.1,544.4 Q581.8,540.5 584.4,537.5 Q587.0,534.6 589.5,537.3Z" fill="#86d63a" opacity="1.0"/>
<path d="M237.0,559.8 Q237.5,555.0 242.3,554.5 Q247.1,554.0 248.8,558.6 Q250.4,563.2 247.1,566.5 Q243.8,569.7 240.2,567.1 Q236.5,564.5 237.0,559.8Z" fill="#86d63a" opacity="1.0"/>
<path d="M277.5,557.5 Q279.0,562.5 275.0,565.2 Q270.9,567.9 267.1,565.0 Q263.3,562.1 265.1,557.8 Q267.0,553.6 271.5,553.0 Q276.0,552.5 277.5,557.5Z" fill="#86d63a" opacity="1.0"/>
<path d="M293.5,552.3 Q297.1,553.4 298.6,557.4 Q300.0,561.5 296.0,563.6 Q291.9,565.6 289.0,562.3 Q286.1,559.0 287.9,555.1 Q289.8,551.3 293.5,552.3Z" fill="#86d63a" opacity="1.0"/>
<path d="M314.4,556.8 Q312.5,560.6 309.8,560.8 Q307.1,561.1 304.8,558.5 Q302.5,556.0 305.2,553.1 Q307.9,550.3 312.0,551.6 Q316.2,553.0 314.4,556.8Z" fill="#86d63a" opacity="1.0"/>
<path d="M333.7,557.7 Q333.0,562.5 329.0,563.9 Q325.0,565.4 323.7,561.7 Q322.4,557.9 323.8,554.0 Q325.1,550.1 329.7,551.5 Q334.3,552.9 333.7,557.7Z" fill="#86d63a" opacity="1.0"/>
<path d="M362.8,549.7 Q365.8,552.0 365.1,556.4 Q364.4,560.8 360.3,560.0 Q356.1,559.3 354.0,555.3 Q351.8,551.2 355.8,549.3 Q359.8,547.4 362.8,549.7Z" fill="#86d63a" opacity="1.0"/>
<path d="M377.7,547.6 Q379.4,551.3 378.2,554.3 Q377.0,557.3 373.1,557.4 Q369.3,557.4 368.9,553.0 Q368.5,548.5 372.2,546.2 Q376.0,543.9 377.7,547.6Z" fill="#86d63a" opacity="1.0"/>
<path d="M388.5,546.6 Q391.2,544.5 393.4,547.2 Q395.5,550.0 394.6,553.8 Q393.8,557.6 389.5,557.2 Q385.2,556.8 385.5,552.7 Q385.9,548.7 388.5,546.6Z" fill="#86d63a" opacity="1.0"/>
<path d="M407.5,549.9 Q409.2,553.5 407.7,556.2 Q406.3,558.9 403.4,558.2 Q400.5,557.5 400.1,554.3 Q399.7,551.1 402.8,548.7 Q405.9,546.2 407.5,549.9Z" fill="#86d63a" opacity="1.0"/>
<path d="M416.2,556.2 Q414.3,552.2 416.9,548.3 Q419.5,544.3 424.0,546.5 Q428.5,548.6 427.5,553.4 Q426.6,558.2 422.4,559.2 Q418.2,560.1 416.2,556.2Z" fill="#86d63a" opacity="1.0"/>
<path d="M489.4,556.9 Q490.8,554.6 494.2,554.6 Q497.5,554.6 496.9,558.1 Q496.2,561.6 493.7,562.5 Q491.3,563.4 489.6,561.3 Q488.0,559.2 489.4,556.9Z" fill="#86d63a" opacity="1.0"/>
<path d="M511.7,568.5 Q507.7,568.8 506.7,564.2 Q505.8,559.7 509.6,557.2 Q513.4,554.7 516.8,557.9 Q520.1,561.0 517.9,564.6 Q515.7,568.1 511.7,568.5Z" fill="#86d63a" opacity="1.0"/>
<path d="M531.7,561.1 Q535.0,563.6 535.6,567.2 Q536.2,570.7 532.7,571.6 Q529.2,572.5 527.6,569.6 Q525.9,566.7 527.2,562.6 Q528.5,558.5 531.7,561.1Z" fill="#86d63a" opacity="1.0"/>
<path d="M546.2,566.5 Q548.7,563.5 551.6,563.4 Q554.5,563.4 555.3,566.5 Q556.1,569.7 553.5,572.1 Q550.8,574.4 547.2,572.0 Q543.7,569.6 546.2,566.5Z" fill="#86d63a" opacity="1.0"/>
<path d="M565.6,560.2 Q569.3,558.4 571.0,561.9 Q572.7,565.3 571.0,567.7 Q569.2,570.0 565.8,570.2 Q562.4,570.3 562.1,566.1 Q561.8,561.9 565.6,560.2Z" fill="#86d63a" opacity="1.0"/>
<path d="M585.5,567.1 Q588.1,568.6 587.9,572.8 Q587.7,577.0 583.1,577.2 Q578.5,577.4 577.0,572.8 Q575.5,568.1 579.2,566.8 Q582.9,565.6 585.5,567.1Z" fill="#86d63a" opacity="1.0"/>
<path d="M597.0,554.8 Q601.1,553.2 602.3,557.2 Q603.4,561.2 601.5,563.3 Q599.6,565.4 596.6,564.9 Q593.7,564.4 593.3,560.4 Q592.9,556.4 597.0,554.8Z" fill="#86d63a" opacity="1.0"/>
<path d="M630.4,564.2 Q628.4,560.3 632.2,557.1 Q635.9,553.9 638.0,557.6 Q640.1,561.3 639.8,564.5 Q639.4,567.7 635.9,567.9 Q632.4,568.2 630.4,564.2Z" fill="#86d63a" opacity="1.0"/>
<path d="M653.9,559.4 Q657.4,561.8 655.9,565.1 Q654.5,568.5 651.7,568.9 Q648.8,569.3 646.3,566.2 Q643.9,563.0 647.2,560.0 Q650.5,556.9 653.9,559.4Z" fill="#86d63a" opacity="1.0"/>
<path d="M601.1,575.2 Q597.2,576.0 594.2,572.7 Q591.3,569.3 590.5,564.4 Q589.8,559.4 592.4,555.5 Q594.9,551.6 598.9,550.7 Q602.9,549.8 605.6,553.4 Q608.3,557.0 609.2,561.8 Q610.0,566.5 607.5,570.4 Q605.1,574.3 601.1,575.2Z" fill="#8cdc3e" opacity="1.0"/>
<path d="M195.3,588.4 Q195.6,584.8 198.3,582.4 Q201.0,580.1 202.6,583.5 Q204.2,586.9 203.2,590.4 Q202.2,593.9 198.6,593.0 Q195.0,592.1 195.3,588.4Z" fill="#86d63a" opacity="1.0"/>
<path d="M211.9,591.2 Q208.9,587.9 212.5,585.0 Q216.1,582.0 220.1,583.6 Q224.0,585.3 223.7,590.6 Q223.3,595.9 219.1,595.2 Q214.9,594.4 211.9,591.2Z" fill="#86d63a" opacity="1.0"/>
<path d="M256.1,589.1 Q254.5,592.9 251.1,591.9 Q247.7,590.9 246.9,587.2 Q246.0,583.5 249.2,581.1 Q252.5,578.6 255.1,582.0 Q257.7,585.3 256.1,589.1Z" fill="#86d63a" opacity="1.0"/>
<path d="M264.3,583.3 Q264.1,579.0 266.7,575.5 Q269.3,572.0 272.1,575.6 Q274.9,579.1 274.0,583.5 Q273.2,587.9 268.8,587.7 Q264.5,587.5 264.3,583.3Z" fill="#86d63a" opacity="1.0"/>
<path d="M282.3,574.9 Q285.7,573.0 288.2,575.9 Q290.8,578.8 289.1,582.0 Q287.3,585.2 284.4,584.5 Q281.6,583.7 280.2,580.2 Q278.8,576.8 282.3,574.9Z" fill="#86d63a" opacity="1.0"/>
<path d="M299.2,582.3 Q299.5,578.2 303.1,577.2 Q306.7,576.3 308.3,579.8 Q309.8,583.3 307.8,586.6 Q305.8,589.9 302.4,588.2 Q299.0,586.5 299.2,582.3Z" fill="#86d63a" opacity="1.0"/>
<path d="M322.7,585.4 Q321.1,581.7 322.2,578.6 Q323.2,575.4 326.1,576.4 Q329.0,577.3 329.3,580.3 Q329.6,583.4 326.9,586.3 Q324.3,589.1 322.7,585.4Z" fill="#86d63a" opacity="1.0"/>
<path d="M338.8,582.9 Q338.8,579.2 341.1,577.3 Q343.3,575.5 347.0,577.1 Q350.7,578.8 349.0,583.6 Q347.3,588.5 343.1,587.6 Q338.8,586.7 338.8,582.9Z" fill="#86d63a" opacity="1.0"/>
<path d="M366.7,579.0 Q368.4,582.7 364.5,585.4 Q360.5,588.1 358.3,584.1 Q356.1,580.1 357.7,577.0 Q359.3,573.9 362.1,574.6 Q365.0,575.2 366.7,579.0Z" fill="#86d63a" opacity="1.0"/>
<path d="M403.2,578.8 Q402.7,582.0 399.4,582.0 Q396.1,582.0 394.1,578.0 Q392.2,574.0 395.9,572.9 Q399.7,571.7 401.8,573.7 Q403.8,575.6 403.2,578.8Z" fill="#86d63a" opacity="1.0"/>
<path d="M417.3,580.8 Q415.2,582.9 411.8,582.3 Q408.4,581.7 409.1,577.4 Q409.7,573.1 413.0,573.4 Q416.2,573.7 417.8,576.2 Q419.3,578.7 417.3,580.8Z" fill="#86d63a" opacity="1.0"/>
<path d="M439.9,580.4 Q438.2,584.5 434.4,584.1 Q430.6,583.6 429.4,579.4 Q428.2,575.2 431.7,572.4 Q435.2,569.7 438.4,573.0 Q441.6,576.3 439.9,580.4Z" fill="#86d63a" opacity="1.0"/>
<path d="M445.7,576.8 Q448.5,572.7 452.0,575.7 Q455.4,578.8 455.1,582.9 Q454.8,587.1 450.6,588.8 Q446.3,590.5 444.7,585.7 Q443.0,580.9 445.7,576.8Z" fill="#86d63a" opacity="1.0"/>
<path d="M467.1,580.7 Q466.8,577.0 470.9,575.4 Q475.0,573.8 475.3,578.2 Q475.6,582.7 473.9,585.2 Q472.1,587.7 469.8,586.0 Q467.4,584.3 467.1,580.7Z" fill="#86d63a" opacity="1.0"/>
<path d="M491.9,585.0 Q491.5,590.0 487.2,591.9 Q482.9,593.8 481.7,589.3 Q480.5,584.8 482.1,581.0 Q483.6,577.1 488.0,578.6 Q492.3,580.0 491.9,585.0Z" fill="#86d63a" opacity="1.0"/>
<path d="M501.4,591.6 Q498.9,590.3 499.2,587.2 Q499.4,584.0 502.8,582.2 Q506.2,580.5 508.5,584.8 Q510.8,589.1 507.3,591.0 Q503.8,593.0 501.4,591.6Z" fill="#86d63a" opacity="1.0"/>
<path d="M518.5,586.4 Q518.3,582.4 521.3,579.2 Q524.3,576.0 527.9,579.6 Q531.4,583.3 528.7,586.9 Q526.0,590.5 522.3,590.5 Q518.7,590.4 518.5,586.4Z" fill="#86d63a" opacity="1.0"/>
<path d="M543.3,587.1 Q543.7,590.1 541.2,592.2 Q538.8,594.3 536.7,591.6 Q534.6,588.9 535.2,584.4 Q535.8,579.9 539.4,581.9 Q543.0,584.0 543.3,587.1Z" fill="#86d63a" opacity="1.0"/>
<path d="M561.7,592.8 Q562.4,595.8 559.9,598.3 Q557.3,600.9 554.2,598.1 Q551.1,595.2 553.0,591.4 Q554.9,587.6 558.0,588.7 Q561.1,589.8 561.7,592.8Z" fill="#86d63a" opacity="1.0"/>
<path d="M580.3,603.7 Q576.3,606.3 573.7,602.6 Q571.1,598.9 572.3,594.6 Q573.5,590.2 578.1,590.5 Q582.6,590.9 583.5,596.0 Q584.3,601.1 580.3,603.7Z" fill="#86d63a" opacity="1.0"/>
<path d="M599.4,597.4 Q600.9,602.1 597.2,604.7 Q593.6,607.4 590.2,604.6 Q586.7,601.9 588.6,598.2 Q590.5,594.6 594.2,593.7 Q597.9,592.8 599.4,597.4Z" fill="#86d63a" opacity="1.0"/>
<path d="M624.8,589.5 Q622.3,585.0 625.0,581.3 Q627.8,577.5 632.3,578.5 Q636.8,579.5 636.4,584.7 Q636.0,589.9 631.7,591.9 Q627.4,594.0 624.8,589.5Z" fill="#86d63a" opacity="1.0"/>
<path d="M641.3,580.7 Q644.9,578.2 648.8,579.8 Q652.6,581.5 651.3,585.9 Q650.0,590.4 646.7,589.9 Q643.4,589.4 640.5,586.3 Q637.7,583.2 641.3,580.7Z" fill="#86d63a" opacity="1.0"/>
<path d="M614.1,599.3 Q617.5,599.5 619.8,602.1 Q622.0,604.8 621.7,608.2 Q621.4,611.7 619.1,614.2 Q616.9,616.8 613.5,616.6 Q610.1,616.4 608.0,613.8 Q605.8,611.1 606.1,607.8 Q606.4,604.4 608.6,601.8 Q610.7,599.1 614.1,599.3Z" fill="#8cdc3e" opacity="1.0"/>
<path d="M632.0,599.8 Q635.2,600.2 637.2,602.9 Q639.3,605.6 639.0,609.1 Q638.8,612.6 636.1,614.9 Q633.4,617.1 629.9,616.9 Q626.4,616.6 624.2,613.6 Q622.0,610.6 622.4,606.9 Q622.8,603.1 625.8,601.3 Q628.7,599.4 632.0,599.8Z" fill="#8cdc3e" opacity="1.0"/>
<path d="M653.3,616.4 Q650.1,617.7 646.8,616.2 Q643.5,614.7 642.8,611.2 Q642.1,607.7 643.4,604.7 Q644.8,601.6 647.7,600.3 Q650.7,599.0 653.9,600.2 Q657.1,601.5 658.3,604.9 Q659.5,608.3 658.1,611.7 Q656.6,615.0 653.3,616.4Z" fill="#8cdc3e" opacity="1.0"/>
</g>
<g filter="url(#bl1)">
<circle cx="288.5" cy="529.6" r="8.3" fill="#0e16e2" opacity="0.95"/>
<circle cx="307" cy="529.6" r="8.3" fill="#0e16e2" opacity="0.95"/>
<circle cx="324.6" cy="530" r="8.3" fill="#0e16e2" opacity="0.95"/>
<circle cx="347.8" cy="530" r="8.3" fill="#0e16e2" opacity="0.95"/>
<circle cx="365.4" cy="527" r="6.5" fill="#0e16e2" opacity="0.45"/>
<circle cx="243" cy="559.5" r="6.5" fill="#0e16e2" opacity="0.4"/>
<circle cx="269" cy="579" r="6.5" fill="#0e16e2" opacity="0.4"/>
<circle cx="199.6" cy="585" r="6.5" fill="#0e16e2" opacity="0.4"/>
<circle cx="512.7" cy="561" r="6.5" fill="#0e16e2" opacity="0.4"/>
<circle cx="484.7" cy="532" r="6.5" fill="#0e16e2" opacity="0.4"/>
</g>
<g filter="url(#speck2)">
<path d="M184.6,680.5 Q181.8,676.7 182.6,671.2 Q183.3,665.6 186.4,662.0 Q189.5,658.5 193.2,660.0 Q197.0,661.5 199.1,665.5 Q201.3,669.5 201.1,674.8 Q200.9,680.1 197.9,683.7 Q194.9,687.3 191.2,685.8 Q187.5,684.3 184.6,680.5Z" fill="#7ccc32" opacity="1.0"/>
<path d="M209.2,677.5 Q205.1,677.3 202.0,673.5 Q198.8,669.8 199.0,664.0 Q199.2,658.3 202.0,654.3 Q204.8,650.4 208.7,650.3 Q212.6,650.3 215.6,653.9 Q218.7,657.6 218.5,663.2 Q218.4,668.8 215.8,673.3 Q213.3,677.8 209.2,677.5Z" fill="#7ccc32" opacity="1.0"/>
<path d="M234.8,682.3 Q231.0,684.4 227.6,681.5 Q224.1,678.6 222.6,673.2 Q221.1,667.8 223.0,662.6 Q225.0,657.4 228.9,655.9 Q232.9,654.5 236.5,657.0 Q240.1,659.6 241.1,665.0 Q242.0,670.4 240.2,675.3 Q238.5,680.1 234.8,682.3Z" fill="#7ccc32" opacity="1.0"/>
<path d="M248.0,649.9 Q251.5,647.8 255.0,649.9 Q258.4,652.0 259.7,656.9 Q261.0,661.8 259.9,667.0 Q258.8,672.1 255.2,674.3 Q251.5,676.5 248.2,673.8 Q244.9,671.1 242.8,666.5 Q240.7,661.8 242.7,656.9 Q244.6,652.0 248.0,649.9Z" fill="#7ccc32" opacity="1.0"/>
<path d="M266.2,655.9 Q267.8,650.7 271.7,649.9 Q275.7,649.2 278.9,651.8 Q282.1,654.3 283.3,659.3 Q284.5,664.3 282.6,668.9 Q280.7,673.5 277.1,674.9 Q273.5,676.2 269.8,674.2 Q266.2,672.2 265.4,666.6 Q264.5,661.1 266.2,655.9Z" fill="#7ccc32" opacity="1.0"/>
<path d="M288.2,665.0 Q287.3,659.6 288.8,654.9 Q290.2,650.1 293.7,648.3 Q297.1,646.4 300.7,648.3 Q304.2,650.3 305.3,655.3 Q306.4,660.3 305.1,665.2 Q303.7,670.1 300.2,672.0 Q296.6,673.9 292.9,672.1 Q289.2,670.3 288.2,665.0Z" fill="#7ccc32" opacity="1.0"/>
<path d="M327.4,664.9 Q328.6,670.3 326.2,674.9 Q323.8,679.5 319.8,680.9 Q315.9,682.3 312.9,678.6 Q310.0,674.8 309.1,669.7 Q308.1,664.5 310.3,660.1 Q312.5,655.6 316.2,654.6 Q319.9,653.5 323.1,656.5 Q326.2,659.6 327.4,664.9Z" fill="#7ccc32" opacity="1.0"/>
<path d="M324.3,662.7 Q322.0,658.1 323.9,653.1 Q325.7,648.0 329.0,645.7 Q332.3,643.3 336.0,644.7 Q339.7,646.2 341.4,651.1 Q343.1,656.0 341.8,661.1 Q340.5,666.2 337.1,669.2 Q333.7,672.3 330.2,669.9 Q326.6,667.4 324.3,662.7Z" fill="#7ccc32" opacity="1.0"/>
<path d="M356.8,669.9 Q353.2,672.3 349.4,669.9 Q345.7,667.4 344.6,662.1 Q343.5,656.8 344.7,651.5 Q345.9,646.2 349.6,644.7 Q353.4,643.2 356.7,645.5 Q360.0,647.8 361.8,652.5 Q363.5,657.2 362.0,662.3 Q360.5,667.5 356.8,669.9Z" fill="#7ccc32" opacity="1.0"/>
<path d="M367.6,668.2 Q365.7,663.7 366.7,658.6 Q367.8,653.5 371.0,650.7 Q374.2,647.9 377.9,649.3 Q381.5,650.7 383.9,655.2 Q386.3,659.8 385.2,665.4 Q384.1,671.0 380.5,673.8 Q376.9,676.6 373.2,674.7 Q369.6,672.7 367.6,668.2Z" fill="#7ccc32" opacity="1.0"/>
<path d="M396.6,669.4 Q392.6,669.4 389.4,666.0 Q386.1,662.7 385.9,656.8 Q385.7,650.9 388.6,646.7 Q391.5,642.6 395.4,642.7 Q399.3,642.9 402.1,646.4 Q404.9,650.0 405.1,655.3 Q405.3,660.7 402.9,665.0 Q400.5,669.4 396.6,669.4Z" fill="#7ccc32" opacity="1.0"/>
<path d="M406.1,663.1 Q405.2,657.5 407.1,652.7 Q408.9,647.8 412.7,645.8 Q416.5,643.9 419.6,647.2 Q422.8,650.5 424.4,655.5 Q426.0,660.5 423.7,664.9 Q421.3,669.3 417.9,670.8 Q414.4,672.3 410.7,670.5 Q406.9,668.8 406.1,663.1Z" fill="#7ccc32" opacity="1.0"/>
<path d="M429.7,655.3 Q428.0,652.6 428.5,649.5 Q428.9,646.4 431.2,644.2 Q433.4,641.9 436.7,642.3 Q439.9,642.6 442.0,645.4 Q444.0,648.1 443.2,651.4 Q442.3,654.6 440.1,657.0 Q437.8,659.4 434.7,658.7 Q431.5,658.0 429.7,655.3Z" fill="#86d63a" opacity="1.0"/>
<path d="M462.8,662.1 Q461.1,665.0 458.1,665.7 Q455.1,666.3 452.1,665.2 Q449.0,664.1 448.5,660.7 Q448.1,657.3 449.4,654.4 Q450.7,651.4 453.7,650.7 Q456.7,650.0 459.4,651.4 Q462.2,652.9 463.3,656.0 Q464.5,659.2 462.8,662.1Z" fill="#86d63a" opacity="1.0"/>
<path d="M480.9,643.4 Q483.7,645.2 484.8,648.5 Q485.9,651.8 484.1,655.0 Q482.4,658.1 479.1,658.6 Q475.8,659.2 473.1,657.5 Q470.3,655.8 469.4,652.5 Q468.5,649.2 470.1,646.2 Q471.7,643.1 474.9,642.3 Q478.2,641.6 480.9,643.4Z" fill="#86d63a" opacity="1.0"/>
<path d="M497.1,660.0 Q494.1,660.0 491.5,657.9 Q488.9,655.8 489.5,652.4 Q490.0,649.0 492.2,646.8 Q494.4,644.7 497.7,644.3 Q500.9,643.9 502.7,646.6 Q504.5,649.4 504.6,652.6 Q504.7,655.8 502.4,657.9 Q500.1,660.1 497.1,660.0Z" fill="#86d63a" opacity="1.0"/>
<path d="M518.7,660.8 Q515.4,661.1 512.8,659.0 Q510.2,657.0 510.2,653.7 Q510.1,650.4 511.7,647.7 Q513.3,645.0 516.5,644.3 Q519.6,643.7 522.2,645.8 Q524.7,647.9 525.3,651.3 Q525.9,654.6 524.0,657.6 Q522.1,660.5 518.7,660.8Z" fill="#86d63a" opacity="1.0"/>
<path d="M546.1,657.1 Q545.0,660.3 542.5,662.3 Q540.0,664.3 537.0,663.1 Q534.1,661.9 532.1,659.2 Q530.1,656.6 530.9,653.2 Q531.8,649.9 534.6,648.2 Q537.5,646.6 540.7,647.3 Q543.9,647.9 545.5,650.9 Q547.1,654.0 546.1,657.1Z" fill="#86d63a" opacity="1.0"/>
<path d="M566.7,651.9 Q568.3,654.9 568.0,658.1 Q567.7,661.3 565.4,663.4 Q563.0,665.5 560.0,664.9 Q557.0,664.4 555.2,661.9 Q553.4,659.4 553.5,656.2 Q553.6,653.0 556.1,651.0 Q558.6,649.1 561.9,649.0 Q565.1,649.0 566.7,651.9Z" fill="#86d63a" opacity="1.0"/>
<path d="M578.3,652.9 Q581.1,651.2 584.0,652.3 Q587.0,653.4 588.5,656.2 Q590.1,659.0 589.4,662.3 Q588.7,665.7 585.9,667.5 Q583.0,669.4 580.1,667.9 Q577.2,666.4 575.2,663.7 Q573.2,661.1 574.3,657.8 Q575.5,654.5 578.3,652.9Z" fill="#86d63a" opacity="1.0"/>
<path d="M598.8,673.2 Q595.5,672.6 594.0,669.6 Q592.5,666.7 593.2,663.6 Q593.9,660.5 596.3,658.3 Q598.6,656.0 601.7,657.0 Q604.8,657.9 606.8,660.5 Q608.7,663.2 607.9,666.5 Q607.2,669.8 604.6,671.8 Q602.0,673.8 598.8,673.2Z" fill="#86d63a" opacity="1.0"/>
<path d="M624.8,674.0 Q623.0,676.8 619.6,677.3 Q616.3,677.7 614.1,675.3 Q611.9,672.9 611.2,669.7 Q610.6,666.5 612.4,663.7 Q614.3,660.8 617.5,660.9 Q620.6,660.9 622.9,662.8 Q625.2,664.8 626.0,668.0 Q626.7,671.1 624.8,674.0Z" fill="#86d63a" opacity="1.0"/>
<path d="M644.6,674.6 Q643.5,677.8 640.3,678.9 Q637.1,680.0 634.2,678.2 Q631.3,676.5 630.2,673.2 Q629.1,669.8 630.7,666.8 Q632.3,663.7 635.5,662.6 Q638.7,661.6 641.5,663.4 Q644.2,665.1 644.9,668.3 Q645.7,671.5 644.6,674.6Z" fill="#86d63a" opacity="1.0"/>
<path d="M649.5,662.5 Q652.3,660.9 655.3,662.2 Q658.2,663.5 659.4,666.6 Q660.6,669.8 659.5,672.9 Q658.3,676.1 655.3,677.5 Q652.3,678.8 649.2,677.7 Q646.0,676.5 644.8,673.2 Q643.7,669.8 645.3,667.0 Q646.8,664.1 649.5,662.5Z" fill="#86d63a" opacity="1.0"/>
<path d="M309,668 C312,682 309,692 318,694 C327,692 325,682 327,668 Z" fill="#86d83a"/>
</g>
<g filter="url(#bl1)">
<circle cx="192.2" cy="668.9" r="8.3" fill="#0e16e2" opacity="0.95"/>
<circle cx="208.9" cy="659.6" r="8.3" fill="#0e16e2" opacity="0.95"/>
<circle cx="232" cy="665.2" r="8.3" fill="#0e16e2" opacity="0.95"/>
<circle cx="274.6" cy="658.7" r="8.3" fill="#0e16e2" opacity="0.95"/>
<circle cx="318" cy="663.3" r="8.3" fill="#0e16e2" opacity="0.95"/>
<circle cx="353.3" cy="653" r="8.3" fill="#0e16e2" opacity="0.95"/>
<circle cx="375.5" cy="657.8" r="8.3" fill="#0e16e2" opacity="0.95"/>
<circle cx="415.4" cy="655" r="8.3" fill="#0e16e2" opacity="0.95"/>
</g>
</g>
<path d="M404.8,521.4 H420.2 V594.6 H404.8" fill="none" stroke="#ddd" stroke-width="1.4" stroke-dasharray="5,4"/>
<path d="M404.8,634 H420.2 V679.3 H404.8" fill="none" stroke="#ddd" stroke-width="1.4" stroke-dasharray="5,4"/>
<text x="190.9" y="522.2" font-size="27" fill="#a6df5c">MyoVIIa</text>
<text x="190.9" y="554.0" font-size="27" fill="#4a7dd6">DAPI</text>
<text x="606.4" y="522.4" font-size="27" fill="#fff">4w</text>
<text x="430.5" y="567.0" font-size="27" fill="#fff">OHC</text>
<text x="438.9" y="659.5" font-size="27" fill="#fff">IHC</text>
<clipPath id="cpC2"><rect x="184.8" y="783.9" width="472.40000000000003" height="232.10000000000002"/></clipPath>
<rect x="184.8" y="783.9" width="472.40000000000003" height="232.10000000000002" fill="#030409"/>
<g clip-path="url(#cpC2)">
<g filter="url(#bl8)" opacity="0.35">
<rect x="184" y="790" width="480" height="40" fill="#101830"/>
<rect x="184" y="880" width="480" height="30" fill="#0e1c0a"/>
</g>
<g filter="url(#bl1)">
<circle cx="199.6" cy="804" r="9" fill="#0e16e2" opacity="0.4"/>
<circle cx="246.9" cy="820" r="9" fill="#0e16e2" opacity="0.6"/>
<circle cx="254" cy="789.4" r="9" fill="#0e16e2" opacity="0.45"/>
<circle cx="277.4" cy="811.7" r="9" fill="#0e16e2" opacity="0.45"/>
<circle cx="292.2" cy="790.4" r="9" fill="#0e16e2" opacity="0.7"/>
<circle cx="314.4" cy="811.7" r="9" fill="#0e16e2" opacity="0.5"/>
<circle cx="345" cy="806" r="9" fill="#0e16e2" opacity="0.6"/>
<circle cx="390.4" cy="807" r="9" fill="#0e16e2" opacity="0.55"/>
<circle cx="410.7" cy="793" r="9" fill="#0e16e2" opacity="0.45"/>
<circle cx="220" cy="789.4" r="9" fill="#0e16e2" opacity="0.45"/>
<circle cx="190.4" cy="787.6" r="9" fill="#0e16e2" opacity="0.45"/>
<circle cx="477.6" cy="794" r="9" fill="#0e16e2" opacity="0.8"/>
<circle cx="502.6" cy="805.2" r="9" fill="#0e16e2" opacity="0.8"/>
<circle cx="501.7" cy="787.6" r="9" fill="#0e16e2" opacity="0.65"/>
<circle cx="524.8" cy="786.7" r="9" fill="#0e16e2" opacity="0.65"/>
<circle cx="556.3" cy="789.4" r="9" fill="#0e16e2" opacity="0.75"/>
<circle cx="595.2" cy="795" r="9" fill="#0e16e2" opacity="0.95"/>
<circle cx="621" cy="793" r="9" fill="#0e16e2" opacity="0.8"/>
<circle cx="648.9" cy="799.6" r="9" fill="#0e16e2" opacity="0.95"/>
<circle cx="455.4" cy="825.6" r="9" fill="#0e16e2" opacity="0.8"/>
<circle cx="460" cy="845" r="9" fill="#0e16e2" opacity="0.75"/>
<circle cx="442.4" cy="791.3" r="9" fill="#0e16e2" opacity="0.55"/>
</g>
<g filter="url(#speck2)">
<path d="M187.2,925.3 C187.2,908.3 213.7,908.3 213.7,925.3 L212.7,958.3 C205.7,970.3 195.1,970.3 188.2,958.3 Z" fill="#62b026"/>
<path d="M214.8,924.4 C214.8,907.4 240.1,907.4 240.1,924.4 L239.1,957.4 C232.5,969.4 222.4,969.4 215.8,957.4 Z" fill="#62b026"/>
<path d="M241.2,924.4 C241.2,907.4 266.6,907.4 266.6,924.4 L265.6,957.4 C259.0,969.4 248.9,969.4 242.2,957.4 Z" fill="#62b026"/>
<path d="M267.8,917 C267.8,900 293.0,900 293.0,917 L292.0,950 C285.4,962 275.4,962 268.8,950 Z" fill="#62b026"/>
<path d="M294.2,916 C294.2,899 317.1,899 317.1,916 L316.1,949 C310.2,961 301.1,961 295.2,949 Z" fill="#62b026"/>
<path d="M318.3,920.7 C318.3,903.7 341.1,903.7 341.1,920.7 L340.1,953.7 C334.3,965.7 325.2,965.7 319.3,953.7 Z" fill="#62b026"/>
<path d="M342.4,917 C342.4,900 365.7,900 365.7,917 L364.7,950 C358.7,962 349.4,962 343.4,950 Z" fill="#62b026"/>
<path d="M366.9,917 C366.9,900 390.2,900 390.2,917 L389.2,950 C383.2,962 373.9,962 367.9,950 Z" fill="#62b026"/>
<path d="M391.5,918 C391.5,901 415.3,901 415.3,918 L414.3,951 C408.1,963 398.6,963 392.5,951 Z" fill="#62b026"/>
<path d="M416.5,925.3 C416.5,908.3 446.9,908.3 446.9,925.3 L445.9,958.3 C437.8,970.3 425.6,970.3 417.5,958.3 Z" fill="#62b026"/>
<path d="M448.1,920.7 C448.1,903.7 476.5,903.7 476.5,920.7 L475.5,953.7 C468.0,965.7 456.6,965.7 449.1,953.7 Z" fill="#62b026"/>
<path d="M477.8,925.3 C477.8,908.3 500.1,908.3 500.1,925.3 L499.1,958.3 C493.4,970.3 484.5,970.3 478.8,958.3 Z" fill="#62b026"/>
<path d="M501.4,925.3 C501.4,908.3 522.8,908.3 522.8,925.3 L521.8,958.3 C516.4,970.3 507.8,970.3 502.4,958.3 Z" fill="#62b026"/>
<path d="M524.0,934.6 C524.0,917.6 544.5,917.6 544.5,934.6 L543.5,967.6 C538.4,979.6 530.2,979.6 525.0,967.6 Z" fill="#62b026"/>
<path d="M545.8,930 C545.8,913 565.9,913 565.9,930 L564.9,963 C559.9,975 551.8,975 546.8,963 Z" fill="#62b026"/>
<path d="M567.1,943 C567.1,926 588.6,926 588.6,943 L587.6,976 C582.1,988 573.6,988 568.1,976 Z" fill="#62b026"/>
<path d="M589.8,940 C589.8,923 611.8,923 611.8,940 L610.8,973 C605.2,985 596.4,985 590.8,973 Z" fill="#62b026"/>
<path d="M613.0,947.6 C613.0,930.6 633.5,930.6 633.5,947.6 L632.5,980.6 C627.3,992.6 619.1,992.6 614.0,980.6 Z" fill="#62b026"/>
<path d="M634.7,940 C634.7,923 657.6,923 657.6,940 L656.6,973 C650.7,985 641.6,985 635.7,973 Z" fill="#62b026"/>
<ellipse cx="200.4" cy="944.3" rx="12.2" ry="8" fill="#80d236"/>
<ellipse cx="227.4" cy="943.4" rx="11.6" ry="8" fill="#80d236"/>
<ellipse cx="253.9" cy="943.4" rx="11.7" ry="8" fill="#80d236"/>
<ellipse cx="280.4" cy="936" rx="11.6" ry="8" fill="#80d236"/>
<ellipse cx="305.6" cy="935" rx="10.4" ry="8" fill="#80d236"/>
<ellipse cx="329.7" cy="939.7" rx="10.4" ry="8" fill="#80d236"/>
<ellipse cx="354.0" cy="936" rx="10.7" ry="8" fill="#80d236"/>
<ellipse cx="378.6" cy="936" rx="10.7" ry="8" fill="#80d236"/>
<ellipse cx="403.4" cy="937" rx="10.9" ry="8" fill="#80d236"/>
<ellipse cx="431.7" cy="944.3" rx="14.2" ry="8" fill="#80d236"/>
<ellipse cx="462.3" cy="939.7" rx="13.2" ry="8" fill="#80d236"/>
<ellipse cx="488.9" cy="944.3" rx="10.2" ry="8" fill="#80d236"/>
<ellipse cx="512.1" cy="944.3" rx="9.7" ry="8" fill="#80d236"/>
<ellipse cx="534.3" cy="953.6" rx="9.3" ry="8" fill="#80d236"/>
<ellipse cx="555.8" cy="949" rx="9.1" ry="8" fill="#80d236"/>
<ellipse cx="577.9" cy="962" rx="9.8" ry="8" fill="#80d236"/>
<ellipse cx="600.8" cy="959" rx="10.0" ry="8" fill="#80d236"/>
<ellipse cx="623.2" cy="966.6" rx="9.3" ry="8" fill="#80d236"/>
<ellipse cx="646.2" cy="959" rx="10.4" ry="8" fill="#80d236"/>
</g>
<g filter="url(#bl2)">
<ellipse cx="196.6" cy="962.3" rx="6" ry="7" fill="#040804" opacity="0.9"/>
<ellipse cx="225.9" cy="961.4" rx="6" ry="7" fill="#040804" opacity="0.9"/>
<ellipse cx="249.4" cy="961.4" rx="6" ry="7" fill="#040804" opacity="0.9"/>
<ellipse cx="279" cy="954" rx="6" ry="7" fill="#040804" opacity="0.9"/>
<ellipse cx="302.2" cy="953" rx="6" ry="7" fill="#040804" opacity="0.9"/>
<ellipse cx="327.2" cy="957.7" rx="6" ry="7" fill="#040804" opacity="0.9"/>
<ellipse cx="350.3" cy="954" rx="6" ry="7" fill="#040804" opacity="0.9"/>
<ellipse cx="376.3" cy="954" rx="6" ry="7" fill="#040804" opacity="0.9"/>
<ellipse cx="399.4" cy="955" rx="6" ry="7" fill="#040804" opacity="0.9"/>
<ellipse cx="426.4" cy="962.3" rx="6" ry="7" fill="#040804" opacity="0.9"/>
<ellipse cx="462.6" cy="957.7" rx="6" ry="7" fill="#040804" opacity="0.9"/>
<ellipse cx="485.7" cy="962.3" rx="6" ry="7" fill="#040804" opacity="0.9"/>
<ellipse cx="509.79999999999995" cy="962.3" rx="6" ry="7" fill="#040804" opacity="0.9"/>
<ellipse cx="531" cy="971.6" rx="6" ry="7" fill="#040804" opacity="0.9"/>
<ellipse cx="553.3" cy="967" rx="6" ry="7" fill="#040804" opacity="0.9"/>
<ellipse cx="573.7" cy="980" rx="6" ry="7" fill="#040804" opacity="0.9"/>
<ellipse cx="598.7" cy="977" rx="6" ry="7" fill="#040804" opacity="0.9"/>
<ellipse cx="620" cy="984.6" rx="6" ry="7" fill="#040804" opacity="0.9"/>
<ellipse cx="642.2" cy="977" rx="6" ry="7" fill="#040804" opacity="0.9"/>
</g>
<g filter="url(#bl1)">
<circle cx="199.6" cy="928.3" r="9.5" fill="#0e16e2" opacity="1.0"/>
<circle cx="228.9" cy="927.4" r="9.5" fill="#0e16e2" opacity="1.0"/>
<circle cx="252.4" cy="927.4" r="9.5" fill="#0e16e2" opacity="1.0"/>
<circle cx="282" cy="920" r="9.5" fill="#0e16e2" opacity="1.0"/>
<circle cx="305.2" cy="919" r="9.5" fill="#0e16e2" opacity="1.0"/>
<circle cx="330.2" cy="923.7" r="9.5" fill="#0e16e2" opacity="1.0"/>
<circle cx="353.3" cy="920" r="9.5" fill="#0e16e2" opacity="1.0"/>
<circle cx="379.3" cy="920" r="9.5" fill="#0e16e2" opacity="1.0"/>
<circle cx="402.4" cy="921" r="9.5" fill="#0e16e2" opacity="1.0"/>
<circle cx="429.4" cy="928.3" r="9.5" fill="#0e16e2" opacity="1.0"/>
<circle cx="465.6" cy="923.7" r="9.5" fill="#0e16e2" opacity="1.0"/>
<circle cx="488.7" cy="928.3" r="9.5" fill="#0e16e2" opacity="1.0"/>
<circle cx="512.8" cy="928.3" r="9.5" fill="#0e16e2" opacity="1.0"/>
<circle cx="534" cy="937.6" r="9.5" fill="#0e16e2" opacity="1.0"/>
<circle cx="556.3" cy="933" r="8" fill="#0e16e2" opacity="0.3"/>
<circle cx="576.7" cy="946" r="9.5" fill="#0e16e2" opacity="1.0"/>
<circle cx="601.7" cy="943" r="8" fill="#0e16e2" opacity="0.3"/>
<circle cx="623" cy="950.6" r="9.5" fill="#0e16e2" opacity="1.0"/>
<circle cx="645.2" cy="943" r="8" fill="#0e16e2" opacity="0.3"/>
<circle cx="196.9" cy="984.8" r="9" fill="#0e16e2" opacity="0.7"/>
<circle cx="234.8" cy="987.6" r="9" fill="#0e16e2" opacity="0.6"/>
<circle cx="238.5" cy="999.6" r="9" fill="#0e16e2" opacity="0.45"/>
<circle cx="261.7" cy="978.3" r="9" fill="#0e16e2" opacity="0.65"/>
<circle cx="282" cy="984.8" r="9" fill="#0e16e2" opacity="0.7"/>
<circle cx="277.4" cy="1002.4" r="9" fill="#0e16e2" opacity="0.8"/>
<circle cx="317.2" cy="1007" r="9" fill="#0e16e2" opacity="0.65"/>
<circle cx="335.7" cy="990.4" r="9" fill="#0e16e2" opacity="0.9"/>
<circle cx="340.4" cy="1010.7" r="9" fill="#0e16e2" opacity="0.8"/>
<circle cx="356" cy="1000.6" r="9" fill="#0e16e2" opacity="0.85"/>
<circle cx="368" cy="977.4" r="9" fill="#0e16e2" opacity="0.8"/>
<circle cx="385.7" cy="984.8" r="9" fill="#0e16e2" opacity="0.85"/>
<circle cx="402.4" cy="993" r="9" fill="#0e16e2" opacity="0.9"/>
<circle cx="407" cy="973.7" r="9" fill="#0e16e2" opacity="0.95"/>
<circle cx="383.9" cy="1010.7" r="9" fill="#0e16e2" opacity="0.8"/>
<circle cx="348.7" cy="973.7" r="9" fill="#0e16e2" opacity="0.5"/>
<circle cx="411.9" cy="973.7" r="9" fill="#0e16e2" opacity="0.9"/>
<circle cx="426.7" cy="972.8" r="9" fill="#0e16e2" opacity="0.9"/>
<circle cx="492.4" cy="983" r="9" fill="#0e16e2" opacity="0.95"/>
<circle cx="428.5" cy="999.6" r="9" fill="#0e16e2" opacity="0.9"/>
<circle cx="448" cy="998.7" r="9" fill="#0e16e2" opacity="0.65"/>
<circle cx="548.9" cy="995.9" r="9" fill="#0e16e2" opacity="0.65"/>
<circle cx="607.2" cy="1000.6" r="9" fill="#0e16e2" opacity="0.95"/>
<circle cx="445.2" cy="1014.4" r="9" fill="#0e16e2" opacity="0.8"/>
<circle cx="602.6" cy="1013.5" r="9" fill="#0e16e2" opacity="0.8"/>
<circle cx="459" cy="983" r="9" fill="#0e16e2" opacity="0.45"/>
</g>
</g>
<clipPath id="cpC3"><rect x="184.8" y="1076.3" width="472.40000000000003" height="231.5"/></clipPath>
<rect x="184.8" y="1076.3" width="472.40000000000003" height="231.5" fill="#030409"/>
<g clip-path="url(#cpC3)">
<g filter="url(#speck)">
<path d="M184,1076 H540 V1135 C500,1142 300,1138 184,1132 Z" fill="#2c5416" opacity="0.6"/>
<path d="M545,1076 H660 V1165 C640,1158 620,1148 600,1140 C580,1132 560,1130 545,1128 Z" fill="#2c5416" opacity="0.6"/>
</g>
<g filter="url(#bl8)" opacity="0.5">
<rect x="184" y="1185" width="480" height="35" fill="#0c1020"/>
</g>
<g filter="url(#bl1)">
<circle cx="190.4" cy="1082.2" r="9.5" fill="#0e16e2" opacity="0.55"/>
<circle cx="219" cy="1091.5" r="9.5" fill="#0e16e2" opacity="0.75"/>
<circle cx="203.3" cy="1108" r="9.5" fill="#0e16e2" opacity="0.75"/>
<circle cx="253.3" cy="1096" r="9.5" fill="#0e16e2" opacity="0.75"/>
<circle cx="276.5" cy="1104.4" r="9.5" fill="#0e16e2" opacity="0.55"/>
<circle cx="286.7" cy="1082.2" r="9.5" fill="#0e16e2" opacity="0.9"/>
<circle cx="326.5" cy="1082.2" r="9.5" fill="#0e16e2" opacity="0.8"/>
<circle cx="347.8" cy="1080.4" r="9.5" fill="#0e16e2" opacity="0.7"/>
<circle cx="386.7" cy="1099.8" r="9.5" fill="#0e16e2" opacity="0.75"/>
<circle cx="408.9" cy="1089.6" r="9.5" fill="#0e16e2" opacity="0.9"/>
<circle cx="411.9" cy="1090.6" r="9.5" fill="#0e16e2" opacity="0.9"/>
<circle cx="436" cy="1082.2" r="9.5" fill="#0e16e2" opacity="0.85"/>
<circle cx="463.7" cy="1080.4" r="9.5" fill="#0e16e2" opacity="0.85"/>
<circle cx="462.8" cy="1106.3" r="9.5" fill="#0e16e2" opacity="0.9"/>
<circle cx="495.2" cy="1097" r="9.5" fill="#0e16e2" opacity="0.9"/>
<circle cx="520.7" cy="1099.8" r="9.5" fill="#0e16e2" opacity="0.95"/>
<circle cx="543.3" cy="1102.6" r="9.5" fill="#0e16e2" opacity="0.9"/>
<circle cx="568.3" cy="1101.7" r="9.5" fill="#0e16e2" opacity="0.9"/>
<circle cx="600.7" cy="1097" r="9.5" fill="#0e16e2" opacity="0.95"/>
<circle cx="638.7" cy="1112.8" r="9.5" fill="#0e16e2" opacity="0.95"/>
<circle cx="321" cy="1169.3" r="9.5" fill="#0e16e2" opacity="0.75"/>
<circle cx="215.4" cy="1167.4" r="9.5" fill="#0e16e2" opacity="0.3"/>
</g>
<g filter="url(#speck2)">
<path d="M180.6,1215.9 C180.6,1198.9 195.3,1198.9 195.3,1215.9 L194.3,1239.9 C191.6,1250.9 184.3,1250.9 181.6,1239.9 Z" fill="#7ccc32" opacity="0.9"/>
<path d="M196.5,1198.3 C196.5,1181.3 215.2,1181.3 215.2,1198.3 L214.2,1222.3 C210.5,1233.3 201.2,1233.3 197.5,1222.3 Z" fill="#7ccc32" opacity="0.75"/>
<path d="M216.4,1214 C216.4,1197 240.2,1197 240.2,1214 L239.2,1238 C234.2,1249 222.4,1249 217.4,1238 Z" fill="#7ccc32" opacity="0.95"/>
<path d="M241.4,1201 C241.4,1184 263.9,1184 263.9,1201 L262.9,1225 C258.2,1236 247.0,1236 242.4,1225 Z" fill="#7ccc32" opacity="0.95"/>
<path d="M265.1,1207.6 C265.1,1190.6 286.1,1190.6 286.1,1207.6 L285.1,1231.6 C280.8,1242.6 270.3,1242.6 266.1,1231.6 Z" fill="#7ccc32" opacity="0.8"/>
<path d="M287.3,1194.6 C287.3,1177.6 308.8,1177.6 308.8,1194.6 L307.8,1218.6 C303.4,1229.6 292.7,1229.6 288.3,1218.6 Z" fill="#7ccc32" opacity="0.8"/>
<path d="M310.0,1208.5 C310.0,1191.5 330.5,1191.5 330.5,1208.5 L329.5,1232.5 C325.4,1243.5 315.1,1243.5 311.0,1232.5 Z" fill="#7ccc32" opacity="1.0"/>
<path d="M331.8,1198.3 C331.8,1181.3 349.9,1181.3 349.9,1198.3 L348.9,1222.3 C345.4,1233.3 336.3,1233.3 332.8,1222.3 Z" fill="#7ccc32" opacity="0.75"/>
<path d="M351.2,1198.3 C351.2,1181.3 370.3,1181.3 370.3,1198.3 L369.3,1222.3 C365.5,1233.3 355.9,1233.3 352.2,1222.3 Z" fill="#7ccc32" opacity="0.6"/>
<path d="M371.5,1200.1 C371.5,1183.1 395.3,1183.1 395.3,1200.1 L394.3,1224.1 C389.3,1235.1 377.4,1235.1 372.5,1224.1 Z" fill="#7ccc32" opacity="0.95"/>
<path d="M396.5,1212.2 C396.5,1195.2 421.8,1195.2 421.8,1212.2 L420.8,1236.2 C415.5,1247.2 402.8,1247.2 397.5,1236.2 Z" fill="#7ccc32" opacity="0.95"/>
<path d="M423.0,1200.1 C423.0,1183.1 445.5,1183.1 445.5,1200.1 L444.5,1224.1 C439.9,1235.1 428.6,1235.1 424.0,1224.1 Z" fill="#7ccc32" opacity="0.8"/>
<path d="M446.7,1209.4 C446.7,1192.4 466.8,1192.4 466.8,1209.4 L465.8,1233.4 C461.8,1244.4 451.7,1244.4 447.7,1233.4 Z" fill="#7ccc32" opacity="0.75"/>
<path d="M468.0,1211.3 C468.0,1194.3 486.2,1194.3 486.2,1211.3 L485.2,1235.3 C481.7,1246.3 472.6,1246.3 469.0,1235.3 Z" fill="#7ccc32" opacity="0.6"/>
<path d="M487.5,1217.7 C487.5,1200.7 508.0,1200.7 508.0,1217.7 L507.0,1241.7 C502.9,1252.7 492.6,1252.7 488.5,1241.7 Z" fill="#7ccc32" opacity="0.8"/>
<path d="M509.2,1216.8 C509.2,1199.8 533.4,1199.8 533.4,1216.8 L532.4,1240.8 C527.4,1251.8 515.3,1251.8 510.2,1240.8 Z" fill="#7ccc32" opacity="1.0"/>
<path d="M534.6,1219.6 C534.6,1202.6 558.0,1202.6 558.0,1219.6 L557.0,1243.6 C552.2,1254.6 540.5,1254.6 535.6,1243.6 Z" fill="#7ccc32" opacity="0.8"/>
<path d="M559.2,1228 C559.2,1211 581.1,1211 581.1,1228 L580.1,1252 C575.7,1263 564.7,1263 560.2,1252 Z" fill="#7ccc32" opacity="0.8"/>
<path d="M582.4,1226 C582.4,1209 604.3,1209 604.3,1226 L603.3,1250 C598.8,1261 587.8,1261 583.4,1250 Z" fill="#7ccc32" opacity="0.8"/>
<path d="M605.5,1238 C605.5,1221 627.9,1221 627.9,1238 L626.9,1262 C622.3,1273 611.1,1273 606.5,1262 Z" fill="#7ccc32" opacity="0.85"/>
<path d="M629.1,1229.8 C629.1,1212.8 647.1,1212.8 647.1,1229.8 L646.1,1253.8 C642.6,1264.8 633.6,1264.8 630.1,1253.8 Z" fill="#7ccc32" opacity="0.6"/>
<path d="M648.4,1246.4 C648.4,1229.4 661.4,1229.4 661.4,1246.4 L660.4,1270.4 C658.1,1281.4 651.6,1281.4 649.4,1270.4 Z" fill="#7ccc32" opacity="0.9"/>
<path d="M508,1225 C508,1200 534,1200 534,1225 L534,1245 C530,1256 512,1256 508,1245 Z" fill="#8cdc3e"/>
</g>
<g filter="url(#bl1)">
<circle cx="188.5" cy="1223.9" r="9.5" fill="#0e16e2" opacity="1.0"/>
<circle cx="203.3" cy="1206.3" r="7" fill="#0e16e2" opacity="0.3"/>
<circle cx="228.3" cy="1222" r="9.5" fill="#0e16e2" opacity="1.0"/>
<circle cx="253.3" cy="1209" r="9.5" fill="#0e16e2" opacity="1.0"/>
<circle cx="275.6" cy="1215.6" r="9.5" fill="#0e16e2" opacity="1.0"/>
<circle cx="297.8" cy="1202.6" r="9.5" fill="#0e16e2" opacity="1.0"/>
<circle cx="321" cy="1216.5" r="9.5" fill="#0e16e2" opacity="1.0"/>
<circle cx="341.3" cy="1206.3" r="7" fill="#0e16e2" opacity="0.3"/>
<circle cx="359.8" cy="1206.3" r="9.5" fill="#0e16e2" opacity="1.0"/>
<circle cx="382" cy="1208.1" r="9.5" fill="#0e16e2" opacity="1.0"/>
<circle cx="409.8" cy="1220.2" r="9.5" fill="#0e16e2" opacity="1.0"/>
<circle cx="435" cy="1208.1" r="7" fill="#0e16e2" opacity="0.3"/>
<circle cx="457.2" cy="1217.4" r="7" fill="#0e16e2" opacity="0.3"/>
<circle cx="477.6" cy="1219.3" r="7" fill="#0e16e2" opacity="0.3"/>
<circle cx="496.1" cy="1225.7" r="9.5" fill="#0e16e2" opacity="1.0"/>
<circle cx="521.1" cy="1224.8" r="7" fill="#0e16e2" opacity="0.3"/>
<circle cx="547" cy="1227.6" r="7" fill="#0e16e2" opacity="0.3"/>
<circle cx="570.2" cy="1236" r="9.5" fill="#0e16e2" opacity="1.0"/>
<circle cx="593.3" cy="1234" r="7" fill="#0e16e2" opacity="0.3"/>
<circle cx="616.5" cy="1246" r="9.5" fill="#0e16e2" opacity="1.0"/>
<circle cx="640.5" cy="1237.8" r="7" fill="#0e16e2" opacity="0.3"/>
<circle cx="655" cy="1254.4" r="9.5" fill="#0e16e2" opacity="1.0"/>
<circle cx="231" cy="1261.9" r="9.5" fill="#0e16e2" opacity="0.9"/>
<circle cx="227.4" cy="1285.9" r="9.5" fill="#0e16e2" opacity="0.9"/>
<circle cx="257" cy="1260" r="9.5" fill="#0e16e2" opacity="0.35"/>
<circle cx="265.4" cy="1295.2" r="9.5" fill="#0e16e2" opacity="0.85"/>
<circle cx="282" cy="1260" r="9.5" fill="#0e16e2" opacity="0.35"/>
<circle cx="298.7" cy="1252.6" r="9.5" fill="#0e16e2" opacity="0.9"/>
<circle cx="328.3" cy="1272" r="9.5" fill="#0e16e2" opacity="0.85"/>
<circle cx="312.6" cy="1295.2" r="9.5" fill="#0e16e2" opacity="0.85"/>
<circle cx="336.7" cy="1293.3" r="9.5" fill="#0e16e2" opacity="0.9"/>
<circle cx="356" cy="1280.4" r="9.5" fill="#0e16e2" opacity="0.45"/>
<circle cx="374.6" cy="1262.8" r="9.5" fill="#0e16e2" opacity="0.9"/>
<circle cx="374.6" cy="1286" r="9.5" fill="#0e16e2" opacity="0.8"/>
<circle cx="202.4" cy="1258" r="9.5" fill="#0e16e2" opacity="0.35"/>
<circle cx="525.7" cy="1273.9" r="9.5" fill="#0e16e2" opacity="0.95"/>
<circle cx="495.2" cy="1276.7" r="9.5" fill="#0e16e2" opacity="0.35"/>
<circle cx="448" cy="1288.7" r="9.5" fill="#0e16e2" opacity="0.55"/>
<circle cx="471.1" cy="1297" r="9.5" fill="#0e16e2" opacity="0.9"/>
<circle cx="520.2" cy="1298.9" r="9.5" fill="#0e16e2" opacity="0.9"/>
<circle cx="543.3" cy="1302.6" r="9.5" fill="#0e16e2" opacity="0.9"/>
<circle cx="593.3" cy="1288.7" r="9.5" fill="#0e16e2" opacity="0.9"/>
<circle cx="648.9" cy="1299.8" r="9.5" fill="#0e16e2" opacity="0.9"/>
<circle cx="430.4" cy="1300.7" r="9.5" fill="#0e16e2" opacity="0.45"/>
</g>
</g>
<rect x="622.6" y="1280" width="27.2" height="3.7" fill="#fff"/>
<text x="76.6" y="617.4" font-size="27.3" fill="#000"><tspan font-style="italic">Syne4</tspan><tspan font-style="italic" font-size="17.2" dy="-8.6">+/-</tspan></text>
<text x="81.5" y="909.6" font-size="27.3" fill="#000"><tspan font-style="italic">Syne4</tspan><tspan font-style="italic" font-size="17.2" dy="-8.6">-/-</tspan></text>
<text x="51.2" y="1184.8" font-size="27.3" fill="#000"><tspan font-style="italic">Syne4</tspan><tspan font-style="italic" font-size="17.2" dy="-8.6">-/-</tspan><tspan dy="8.6"> +</tspan></text>
<text x="13.3" y="1217.9" font-size="27.3" fill="#000"><tspan>AAV.</tspan><tspan>Syne4</tspan><tspan font-size="17.2" dy="-8.6">AA</tspan></text>
<rect x="816.8" y="1051.8" width="35.40000000000009" height="260.9000000000001" fill="#dadada" stroke="#111" stroke-width="1.6"/>
<rect x="926.4" y="1074.5" width="35.60000000000002" height="238.20000000000005" fill="#dadada" stroke="#111" stroke-width="1.6"/>
<line x1="834.5" y1="1043.8" x2="834.5" y2="1060.4" stroke="#6cc534" stroke-width="1.8"/>
<line x1="825.0" y1="1043.8" x2="844.0" y2="1043.8" stroke="#6cc534" stroke-width="1.8"/>
<line x1="825.0" y1="1060.4" x2="844.0" y2="1060.4" stroke="#6cc534" stroke-width="1.8"/>
<circle cx="822.4" cy="1047" r="5.0" fill="#6cc534"/>
<circle cx="847.6" cy="1047" r="5.0" fill="#6cc534"/>
<circle cx="834.2" cy="1061.4" r="5.0" fill="#6cc534"/>
<line x1="944.6" y1="1055.9" x2="944.6" y2="1094.9" stroke="#2136f2" stroke-width="1.8"/>
<line x1="935.1" y1="1055.9" x2="954.1" y2="1055.9" stroke="#2136f2" stroke-width="1.8"/>
<line x1="935.1" y1="1094.9" x2="954.1" y2="1094.9" stroke="#2136f2" stroke-width="1.8"/>
<circle cx="944.6" cy="1053.9" r="5.0" fill="#2136f2"/>
<circle cx="944.6" cy="1078.5" r="5.0" fill="#2136f2"/>
<circle cx="944.6" cy="1092.9" r="5.0" fill="#2136f2"/>
<line x1="889.4" y1="1305.5" x2="889.4" y2="1313" stroke="#e0311c" stroke-width="1.8"/>
<line x1="879.9" y1="1305.5" x2="898.9" y2="1305.5" stroke="#e0311c" stroke-width="1.8"/>
<line x1="879.9" y1="1313" x2="898.9" y2="1313" stroke="#e0311c" stroke-width="1.8"/>
<circle cx="877.6" cy="1312" r="5.0" fill="#e0311c"/>
<circle cx="889.4" cy="1305" r="5.0" fill="#e0311c"/>
<circle cx="901.5" cy="1312" r="5.0" fill="#e0311c"/>
<line x1="999.2" y1="1298.3" x2="999.2" y2="1313" stroke="#000" stroke-width="1.8"/>
<line x1="989.7" y1="1298.3" x2="1008.7" y2="1298.3" stroke="#000" stroke-width="1.8"/>
<line x1="989.7" y1="1313" x2="1008.7" y2="1313" stroke="#000" stroke-width="1.8"/>
<circle cx="986.6" cy="1312" r="5.0" fill="#000"/>
<circle cx="999.2" cy="1297.6" r="5.0" fill="#000"/>
<circle cx="1011.8" cy="1312" r="5.0" fill="#000"/>
<line x1="798.2" y1="1027.5" x2="798.2" y2="1314.2" stroke="#000" stroke-width="3"/>
<line x1="786.4" y1="1312.7" x2="1036.3" y2="1312.7" stroke="#000" stroke-width="3"/>
<line x1="786.4" y1="1312.7" x2="798.2" y2="1312.7" stroke="#000" stroke-width="3"/>
<text x="781.5" y="1320.3" font-size="21.5" text-anchor="end" fill="#000">0</text>
<line x1="786.4" y1="1241.6" x2="798.2" y2="1241.6" stroke="#000" stroke-width="3"/>
<text x="781.5" y="1249.2" font-size="21.5" text-anchor="end" fill="#000">20</text>
<line x1="786.4" y1="1170.5" x2="798.2" y2="1170.5" stroke="#000" stroke-width="3"/>
<text x="781.5" y="1178.1" font-size="21.5" text-anchor="end" fill="#000">40</text>
<line x1="786.4" y1="1099.4" x2="798.2" y2="1099.4" stroke="#000" stroke-width="3"/>
<text x="781.5" y="1107.0" font-size="21.5" text-anchor="end" fill="#000">60</text>
<line x1="786.4" y1="1028.3" x2="798.2" y2="1028.3" stroke="#000" stroke-width="3"/>
<text x="781.5" y="1035.9" font-size="21.5" text-anchor="end" fill="#000">80</text>
<line x1="834.8" y1="1312.7" x2="834.8" y2="1324" stroke="#000" stroke-width="2.6"/>
<line x1="889.4" y1="1312.7" x2="889.4" y2="1324" stroke="#000" stroke-width="2.6"/>
<line x1="943.8" y1="1312.7" x2="943.8" y2="1324" stroke="#000" stroke-width="2.6"/>
<line x1="999.2" y1="1312.7" x2="999.2" y2="1324" stroke="#000" stroke-width="2.6"/>
<text x="0" y="0" font-size="22.8" text-anchor="middle" transform="translate(744.6,1170.2) rotate(-90) scale(1,1.07)">OHC count</text>
<line x1="836.7" y1="988.3" x2="944.7" y2="988.3" stroke="#000" stroke-width="1.8"/>
<text x="876.9" y="983.7" font-size="23.5" text-anchor="middle" fill="#000">ns</text>
<line x1="894.4" y1="995.9" x2="1002" y2="995.9" stroke="#000" stroke-width="1.8"/>
<text x="972.7" y="987.0" font-size="23.5" text-anchor="middle" fill="#000">ns</text>
<line x1="834.0" y1="1016.7" x2="884.0" y2="1016.7" stroke="#000" stroke-width="1.8"/>
<line x1="894.4" y1="1016.7" x2="944.4" y2="1016.7" stroke="#000" stroke-width="1.8"/>
<line x1="951.6" y1="1016.7" x2="1001.7" y2="1016.7" stroke="#000" stroke-width="1.8"/>
<text x="860.1" y="1017.4" font-size="21.5" font-weight="bold" text-anchor="middle" fill="#000">****</text>
<text x="922.3" y="1017.4" font-size="21.5" font-weight="bold" text-anchor="middle" fill="#000">****</text>
<text x="978.0" y="1017.4" font-size="21.5" font-weight="bold" text-anchor="middle" fill="#000">****</text>
<rect x="1124.0" y="1075.5" width="35.40000000000009" height="236.5" fill="#dadada" stroke="#111" stroke-width="1.6"/>
<rect x="1179.0" y="1080.6" width="35.40000000000009" height="231.4000000000001" fill="#dadada" stroke="#111" stroke-width="1.6"/>
<rect x="1234.0" y="1097.8" width="35.40000000000009" height="214.20000000000005" fill="#dadada" stroke="#111" stroke-width="1.6"/>
<rect x="1289.4" y="1069.9" width="35.5" height="242.0999999999999" fill="#dadada" stroke="#111" stroke-width="1.6"/>
<line x1="1141.5" y1="1063.6" x2="1141.5" y2="1080.7" stroke="#6cc534" stroke-width="1.8"/>
<line x1="1132.3" y1="1063.6" x2="1150.7" y2="1063.6" stroke="#6cc534" stroke-width="1.8"/>
<line x1="1132.3" y1="1080.7" x2="1150.7" y2="1080.7" stroke="#6cc534" stroke-width="1.8"/>
<circle cx="1141.5" cy="1058.7" r="5.0" fill="#6cc534"/>
<circle cx="1129.3" cy="1079" r="5.0" fill="#6cc534"/>
<circle cx="1141.5" cy="1079" r="5.0" fill="#6cc534"/>
<circle cx="1154" cy="1079" r="5.0" fill="#6cc534"/>
<line x1="1196.5" y1="1068.8" x2="1196.5" y2="1089.3" stroke="#e0311c" stroke-width="1.8"/>
<line x1="1187.1" y1="1068.8" x2="1205.9" y2="1068.8" stroke="#e0311c" stroke-width="1.8"/>
<line x1="1187.1" y1="1089.3" x2="1205.9" y2="1089.3" stroke="#e0311c" stroke-width="1.8"/>
<circle cx="1184.3" cy="1068.8" r="5.0" fill="#e0311c"/>
<circle cx="1209.5" cy="1079" r="5.0" fill="#e0311c"/>
<circle cx="1184.3" cy="1089.3" r="5.0" fill="#e0311c"/>
<line x1="1251.8" y1="1072.4" x2="1251.8" y2="1119.4" stroke="#2136f2" stroke-width="1.8"/>
<line x1="1242.6" y1="1072.4" x2="1261.0" y2="1072.4" stroke="#2136f2" stroke-width="1.8"/>
<line x1="1242.6" y1="1119.4" x2="1261.0" y2="1119.4" stroke="#2136f2" stroke-width="1.8"/>
<circle cx="1251.8" cy="1068.5" r="5.0" fill="#2136f2"/>
<circle cx="1239.6" cy="1109.6" r="5.0" fill="#2136f2"/>
<circle cx="1264.5" cy="1109.6" r="5.0" fill="#2136f2"/>
<line x1="1307.3" y1="1058.7" x2="1307.3" y2="1079.0" stroke="#000" stroke-width="1.8"/>
<line x1="1298.1" y1="1058.7" x2="1316.5" y2="1058.7" stroke="#000" stroke-width="1.8"/>
<line x1="1298.1" y1="1079.0" x2="1316.5" y2="1079.0" stroke="#000" stroke-width="1.8"/>
<circle cx="1294.3" cy="1058.7" r="5.0" fill="#000"/>
<circle cx="1320.2" cy="1068.8" r="5.0" fill="#000"/>
<circle cx="1294.3" cy="1079.8" r="5.0" fill="#000"/>
<line x1="1105.6" y1="1028.9" x2="1105.6" y2="1313.5" stroke="#000" stroke-width="3"/>
<line x1="1093.3" y1="1312.0" x2="1344" y2="1312.0" stroke="#000" stroke-width="3"/>
<line x1="1093.3" y1="1312.0" x2="1105.6" y2="1312.0" stroke="#000" stroke-width="3"/>
<text x="1088.5" y="1319.6" font-size="21.5" text-anchor="end" fill="#000">0</text>
<line x1="1093.3" y1="1210.5" x2="1105.6" y2="1210.5" stroke="#000" stroke-width="3"/>
<text x="1088.5" y="1218.1" font-size="21.5" text-anchor="end" fill="#000">10</text>
<line x1="1093.3" y1="1109.0" x2="1105.6" y2="1109.0" stroke="#000" stroke-width="3"/>
<text x="1088.5" y="1116.6" font-size="21.5" text-anchor="end" fill="#000">20</text>
<line x1="1098.7" y1="1261.2" x2="1105.6" y2="1261.2" stroke="#000" stroke-width="3"/>
<line x1="1098.7" y1="1159.8" x2="1105.6" y2="1159.8" stroke="#000" stroke-width="3"/>
<line x1="1098.7" y1="1058.2" x2="1105.6" y2="1058.2" stroke="#000" stroke-width="3"/>
<line x1="1141.5" y1="1312.0" x2="1141.5" y2="1323.1" stroke="#000" stroke-width="2.6"/>
<line x1="1196.5" y1="1312.0" x2="1196.5" y2="1323.1" stroke="#000" stroke-width="2.6"/>
<line x1="1251.8" y1="1312.0" x2="1251.8" y2="1323.1" stroke="#000" stroke-width="2.6"/>
<line x1="1306.8" y1="1312.0" x2="1306.8" y2="1323.1" stroke="#000" stroke-width="2.6"/>
<text x="0" y="0" font-size="22.8" text-anchor="middle" transform="translate(1051.8,1170) rotate(-90) scale(1,1.07)">IHC count</text>
<line x1="1134.9" y1="1022.8" x2="1314.6" y2="1022.8" stroke="#000" stroke-width="1.6"/>
<text x="1224.2" y="1009.8" font-size="23" text-anchor="middle" fill="#000">ns</text>
<line x1="205.0" y1="1427.0" x2="205.0" y2="1465.1" stroke="#e0311c" stroke-width="1.8"/>
<line x1="197.8" y1="1427.0" x2="212.2" y2="1427.0" stroke="#e0311c" stroke-width="1.8"/>
<line x1="197.8" y1="1465.1" x2="212.2" y2="1465.1" stroke="#e0311c" stroke-width="1.8"/>
<line x1="278.5" y1="1454.0" x2="278.5" y2="1534.9" stroke="#e0311c" stroke-width="1.8"/>
<line x1="271.3" y1="1454.0" x2="285.7" y2="1454.0" stroke="#e0311c" stroke-width="1.8"/>
<line x1="271.3" y1="1534.9" x2="285.7" y2="1534.9" stroke="#e0311c" stroke-width="1.8"/>
<line x1="352.0" y1="1440.7" x2="352.0" y2="1515.4" stroke="#e0311c" stroke-width="1.8"/>
<line x1="344.8" y1="1440.7" x2="359.2" y2="1440.7" stroke="#e0311c" stroke-width="1.8"/>
<line x1="344.8" y1="1515.4" x2="359.2" y2="1515.4" stroke="#e0311c" stroke-width="1.8"/>
<line x1="425.5" y1="1456.0" x2="425.5" y2="1540.1" stroke="#e0311c" stroke-width="1.8"/>
<line x1="418.3" y1="1456.0" x2="432.7" y2="1456.0" stroke="#e0311c" stroke-width="1.8"/>
<line x1="418.3" y1="1540.1" x2="432.7" y2="1540.1" stroke="#e0311c" stroke-width="1.8"/>
<line x1="499.0" y1="1425.7" x2="499.0" y2="1522.2" stroke="#e0311c" stroke-width="1.8"/>
<line x1="491.8" y1="1425.7" x2="506.2" y2="1425.7" stroke="#e0311c" stroke-width="1.8"/>
<line x1="491.8" y1="1522.2" x2="506.2" y2="1522.2" stroke="#e0311c" stroke-width="1.8"/>
<line x1="560.25" y1="1423.1" x2="560.25" y2="1468.6" stroke="#e0311c" stroke-width="1.8"/>
<line x1="553.05" y1="1423.1" x2="567.45" y2="1423.1" stroke="#e0311c" stroke-width="1.8"/>
<line x1="553.05" y1="1468.6" x2="567.45" y2="1468.6" stroke="#e0311c" stroke-width="1.8"/>
<line x1="205.0" y1="1426.7" x2="205.0" y2="1477.1" stroke="#000" stroke-width="1.8"/>
<line x1="197.8" y1="1426.7" x2="212.2" y2="1426.7" stroke="#000" stroke-width="1.8"/>
<line x1="197.8" y1="1477.1" x2="212.2" y2="1477.1" stroke="#000" stroke-width="1.8"/>
<line x1="278.5" y1="1474.5" x2="278.5" y2="1506.7" stroke="#000" stroke-width="1.8"/>
<line x1="271.3" y1="1474.5" x2="285.7" y2="1474.5" stroke="#000" stroke-width="1.8"/>
<line x1="271.3" y1="1506.7" x2="285.7" y2="1506.7" stroke="#000" stroke-width="1.8"/>
<line x1="352.0" y1="1490.4" x2="352.0" y2="1522.9" stroke="#000" stroke-width="1.8"/>
<line x1="344.8" y1="1490.4" x2="359.2" y2="1490.4" stroke="#000" stroke-width="1.8"/>
<line x1="344.8" y1="1522.9" x2="359.2" y2="1522.9" stroke="#000" stroke-width="1.8"/>
<line x1="425.5" y1="1455.0" x2="425.5" y2="1537.5" stroke="#000" stroke-width="1.8"/>
<line x1="418.3" y1="1455.0" x2="432.7" y2="1455.0" stroke="#000" stroke-width="1.8"/>
<line x1="418.3" y1="1537.5" x2="432.7" y2="1537.5" stroke="#000" stroke-width="1.8"/>
<line x1="499.0" y1="1410.8" x2="499.0" y2="1516.4" stroke="#000" stroke-width="1.8"/>
<line x1="491.8" y1="1410.8" x2="506.2" y2="1410.8" stroke="#000" stroke-width="1.8"/>
<line x1="491.8" y1="1516.4" x2="506.2" y2="1516.4" stroke="#000" stroke-width="1.8"/>
<line x1="560.25" y1="1417.3" x2="560.25" y2="1455.0" stroke="#000" stroke-width="1.8"/>
<line x1="553.05" y1="1417.3" x2="567.45" y2="1417.3" stroke="#000" stroke-width="1.8"/>
<line x1="553.05" y1="1455.0" x2="567.45" y2="1455.0" stroke="#000" stroke-width="1.8"/>
<line x1="205.0" y1="1550.2" x2="205.0" y2="1644.8" stroke="#2136f2" stroke-width="1.8"/>
<line x1="197.8" y1="1550.2" x2="212.2" y2="1550.2" stroke="#2136f2" stroke-width="1.8"/>
<line x1="197.8" y1="1644.8" x2="212.2" y2="1644.8" stroke="#2136f2" stroke-width="1.8"/>
<line x1="278.5" y1="1586.0" x2="278.5" y2="1691.6" stroke="#2136f2" stroke-width="1.8"/>
<line x1="271.3" y1="1586.0" x2="285.7" y2="1586.0" stroke="#2136f2" stroke-width="1.8"/>
<line x1="271.3" y1="1691.6" x2="285.7" y2="1691.6" stroke="#2136f2" stroke-width="1.8"/>
<line x1="352.0" y1="1573.0" x2="352.0" y2="1684.1" stroke="#2136f2" stroke-width="1.8"/>
<line x1="344.8" y1="1573.0" x2="359.2" y2="1573.0" stroke="#2136f2" stroke-width="1.8"/>
<line x1="344.8" y1="1684.1" x2="359.2" y2="1684.1" stroke="#2136f2" stroke-width="1.8"/>
<line x1="425.5" y1="1566.8" x2="425.5" y2="1674.0" stroke="#2136f2" stroke-width="1.8"/>
<line x1="418.3" y1="1566.8" x2="432.7" y2="1566.8" stroke="#2136f2" stroke-width="1.8"/>
<line x1="418.3" y1="1674.0" x2="432.7" y2="1674.0" stroke="#2136f2" stroke-width="1.8"/>
<line x1="499.0" y1="1531.0" x2="499.0" y2="1646.4" stroke="#2136f2" stroke-width="1.8"/>
<line x1="491.8" y1="1531.0" x2="506.2" y2="1531.0" stroke="#2136f2" stroke-width="1.8"/>
<line x1="491.8" y1="1646.4" x2="506.2" y2="1646.4" stroke="#2136f2" stroke-width="1.8"/>
<line x1="560.25" y1="1484.2" x2="560.25" y2="1611.0" stroke="#2136f2" stroke-width="1.8"/>
<line x1="553.05" y1="1484.2" x2="567.45" y2="1484.2" stroke="#2136f2" stroke-width="1.8"/>
<line x1="553.05" y1="1611.0" x2="567.45" y2="1611.0" stroke="#2136f2" stroke-width="1.8"/>
<line x1="205.0" y1="1610.0" x2="205.0" y2="1644.8" stroke="#6cc534" stroke-width="1.8"/>
<line x1="197.8" y1="1610.0" x2="212.2" y2="1610.0" stroke="#6cc534" stroke-width="1.8"/>
<line x1="197.8" y1="1644.8" x2="212.2" y2="1644.8" stroke="#6cc534" stroke-width="1.8"/>
<line x1="278.5" y1="1667.9" x2="278.5" y2="1690.6" stroke="#6cc534" stroke-width="1.8"/>
<line x1="271.3" y1="1667.9" x2="285.7" y2="1667.9" stroke="#6cc534" stroke-width="1.8"/>
<line x1="271.3" y1="1690.6" x2="285.7" y2="1690.6" stroke="#6cc534" stroke-width="1.8"/>
<line x1="352.0" y1="1634.7" x2="352.0" y2="1694.2" stroke="#6cc534" stroke-width="1.8"/>
<line x1="344.8" y1="1634.7" x2="359.2" y2="1634.7" stroke="#6cc534" stroke-width="1.8"/>
<line x1="344.8" y1="1694.2" x2="359.2" y2="1694.2" stroke="#6cc534" stroke-width="1.8"/>
<line x1="425.5" y1="1596.4" x2="425.5" y2="1705.2" stroke="#6cc534" stroke-width="1.8"/>
<line x1="418.3" y1="1596.4" x2="432.7" y2="1596.4" stroke="#6cc534" stroke-width="1.8"/>
<line x1="418.3" y1="1705.2" x2="432.7" y2="1705.2" stroke="#6cc534" stroke-width="1.8"/>
<line x1="499.0" y1="1551.8" x2="499.0" y2="1651.3" stroke="#6cc534" stroke-width="1.8"/>
<line x1="491.8" y1="1551.8" x2="506.2" y2="1551.8" stroke="#6cc534" stroke-width="1.8"/>
<line x1="491.8" y1="1651.3" x2="506.2" y2="1651.3" stroke="#6cc534" stroke-width="1.8"/>
<line x1="560.25" y1="1493.7" x2="560.25" y2="1612.0" stroke="#6cc534" stroke-width="1.8"/>
<line x1="553.05" y1="1493.7" x2="567.45" y2="1493.7" stroke="#6cc534" stroke-width="1.8"/>
<line x1="553.05" y1="1612.0" x2="567.45" y2="1612.0" stroke="#6cc534" stroke-width="1.8"/>
<polyline points="205.0,1445.6 278.5,1494.0 352.0,1478.1 425.5,1498.5 499.0,1474.2 560.25,1445.9" fill="none" stroke="#e0311c" stroke-width="3" stroke-linejoin="round"/>
<circle cx="205.0" cy="1445.6" r="6.3" fill="#e0311c"/>
<circle cx="278.5" cy="1494.0" r="6.3" fill="#e0311c"/>
<circle cx="352.0" cy="1478.1" r="6.3" fill="#e0311c"/>
<circle cx="425.5" cy="1498.5" r="6.3" fill="#e0311c"/>
<circle cx="499.0" cy="1474.2" r="6.3" fill="#e0311c"/>
<circle cx="560.25" cy="1445.9" r="6.3" fill="#e0311c"/>
<polyline points="205.0,1452.1 278.5,1490.4 352.0,1506.7 425.5,1495.9 499.0,1463.1 560.25,1436.5" fill="none" stroke="#000" stroke-width="3" stroke-linejoin="round"/>
<circle cx="205.0" cy="1452.1" r="6.3" fill="#000"/>
<circle cx="278.5" cy="1490.4" r="6.3" fill="#000"/>
<circle cx="352.0" cy="1506.7" r="6.3" fill="#000"/>
<circle cx="425.5" cy="1495.9" r="6.3" fill="#000"/>
<circle cx="499.0" cy="1463.1" r="6.3" fill="#000"/>
<circle cx="560.25" cy="1436.5" r="6.3" fill="#000"/>
<polyline points="205.0,1596.4 278.5,1638.6 352.0,1627.2 425.5,1619.4 499.0,1587.9 560.25,1547.0" fill="none" stroke="#2136f2" stroke-width="3" stroke-linejoin="round"/>
<circle cx="205.0" cy="1596.4" r="6.3" fill="#2136f2"/>
<circle cx="278.5" cy="1638.6" r="6.3" fill="#2136f2"/>
<circle cx="352.0" cy="1627.2" r="6.3" fill="#2136f2"/>
<circle cx="425.5" cy="1619.4" r="6.3" fill="#2136f2"/>
<circle cx="499.0" cy="1587.9" r="6.3" fill="#2136f2"/>
<circle cx="560.25" cy="1547.0" r="6.3" fill="#2136f2"/>
<polyline points="205.0,1627.6 278.5,1678.6 352.0,1663.6 425.5,1650.3 499.0,1601.6 560.25,1552.8" fill="none" stroke="#6cc534" stroke-width="3" stroke-linejoin="round"/>
<circle cx="205.0" cy="1627.6" r="6.3" fill="#6cc534"/>
<circle cx="278.5" cy="1678.6" r="6.3" fill="#6cc534"/>
<circle cx="352.0" cy="1663.6" r="6.3" fill="#6cc534"/>
<circle cx="425.5" cy="1650.3" r="6.3" fill="#6cc534"/>
<circle cx="499.0" cy="1601.6" r="6.3" fill="#6cc534"/>
<circle cx="560.25" cy="1552.8" r="6.3" fill="#6cc534"/>
<line x1="131.5" y1="1391.5" x2="131.5" y2="1719.4" stroke="#000" stroke-width="3"/>
<line x1="117.5" y1="1717.9" x2="622" y2="1717.9" stroke="#000" stroke-width="3"/>
<line x1="117.8" y1="1717.9" x2="131.5" y2="1717.9" stroke="#000" stroke-width="3"/>
<text x="116.0" y="1726.8" font-size="25" text-anchor="end" fill="#000">0</text>
<line x1="117.8" y1="1652.9" x2="131.5" y2="1652.9" stroke="#000" stroke-width="3"/>
<text x="116.0" y="1661.8" font-size="25" text-anchor="end" fill="#000">20</text>
<line x1="117.8" y1="1587.9" x2="131.5" y2="1587.9" stroke="#000" stroke-width="3"/>
<text x="116.0" y="1596.8" font-size="25" text-anchor="end" fill="#000">40</text>
<line x1="117.8" y1="1522.9" x2="131.5" y2="1522.9" stroke="#000" stroke-width="3"/>
<text x="116.0" y="1531.8" font-size="25" text-anchor="end" fill="#000">60</text>
<line x1="117.8" y1="1457.9" x2="131.5" y2="1457.9" stroke="#000" stroke-width="3"/>
<text x="116.0" y="1466.8" font-size="25" text-anchor="end" fill="#000">80</text>
<line x1="117.8" y1="1392.9" x2="131.5" y2="1392.9" stroke="#000" stroke-width="3"/>
<text x="116.0" y="1401.8" font-size="25" text-anchor="end" fill="#000">100</text>
<line x1="205.0" y1="1717.9" x2="205.0" y2="1732.4" stroke="#000" stroke-width="3"/>
<text x="205.0" y="1756.6" font-size="25" text-anchor="middle" fill="#000">6.0</text>
<line x1="278.5" y1="1717.9" x2="278.5" y2="1732.4" stroke="#000" stroke-width="3"/>
<text x="278.5" y="1756.6" font-size="25" text-anchor="middle" fill="#000">12.0</text>
<line x1="352.0" y1="1717.9" x2="352.0" y2="1732.4" stroke="#000" stroke-width="3"/>
<text x="352.0" y="1756.6" font-size="25" text-anchor="middle" fill="#000">18.0</text>
<line x1="425.5" y1="1717.9" x2="425.5" y2="1732.4" stroke="#000" stroke-width="3"/>
<text x="425.5" y="1756.6" font-size="25" text-anchor="middle" fill="#000">24.0</text>
<line x1="499.0" y1="1717.9" x2="499.0" y2="1732.4" stroke="#000" stroke-width="3"/>
<text x="499.0" y="1756.6" font-size="25" text-anchor="middle" fill="#000">30.0</text>
<line x1="560.25" y1="1717.9" x2="560.25" y2="1732.4" stroke="#000" stroke-width="3"/>
<text x="560.25" y="1756.6" font-size="25" text-anchor="middle" fill="#000">35.0</text>
<text x="0" y="0" font-size="26.3" text-anchor="middle" transform="translate(50.3,1557.6) rotate(-90) scale(1,1.06)">ABR threshold (dB SPL)</text>
<text x="377.4" y="1799.2" font-size="26.5" text-anchor="middle" fill="#000">Frequency (kHz)</text>
<line x1="201.1" y1="1392.8" x2="576.5" y2="1392.8" stroke="#000" stroke-width="2.0"/>
<text x="397.4" y="1377.8" font-size="27" text-anchor="middle" fill="#000">ns</text>
<line x1="923.18" y1="1453.3" x2="923.18" y2="1503.9" stroke="#e0311c" stroke-width="1.8"/>
<line x1="915.9799999999999" y1="1453.3" x2="930.38" y2="1453.3" stroke="#e0311c" stroke-width="1.8"/>
<line x1="915.9799999999999" y1="1503.9" x2="930.38" y2="1503.9" stroke="#e0311c" stroke-width="1.8"/>
<line x1="1000.06" y1="1451.0" x2="1000.06" y2="1506.2" stroke="#e0311c" stroke-width="1.8"/>
<line x1="992.8599999999999" y1="1451.0" x2="1007.26" y2="1451.0" stroke="#e0311c" stroke-width="1.8"/>
<line x1="992.8599999999999" y1="1506.2" x2="1007.26" y2="1506.2" stroke="#e0311c" stroke-width="1.8"/>
<line x1="1076.94" y1="1450.0" x2="1076.94" y2="1466.9" stroke="#e0311c" stroke-width="1.8"/>
<line x1="1069.74" y1="1450.0" x2="1084.14" y2="1450.0" stroke="#e0311c" stroke-width="1.8"/>
<line x1="1069.74" y1="1466.9" x2="1084.14" y2="1466.9" stroke="#e0311c" stroke-width="1.8"/>
<line x1="1153.82" y1="1433.2" x2="1153.82" y2="1445.8" stroke="#e0311c" stroke-width="1.8"/>
<line x1="1146.62" y1="1433.2" x2="1161.02" y2="1433.2" stroke="#e0311c" stroke-width="1.8"/>
<line x1="1146.62" y1="1445.8" x2="1161.02" y2="1445.8" stroke="#e0311c" stroke-width="1.8"/>
<line x1="1230.6999999999998" y1="1433.2" x2="1230.6999999999998" y2="1445.8" stroke="#e0311c" stroke-width="1.8"/>
<line x1="1223.4999999999998" y1="1433.2" x2="1237.8999999999999" y2="1433.2" stroke="#e0311c" stroke-width="1.8"/>
<line x1="1223.4999999999998" y1="1445.8" x2="1237.8999999999999" y2="1445.8" stroke="#e0311c" stroke-width="1.8"/>
<line x1="923.18" y1="1428.3" x2="923.18" y2="1465.9" stroke="#000" stroke-width="1.8"/>
<line x1="915.9799999999999" y1="1428.3" x2="930.38" y2="1428.3" stroke="#000" stroke-width="1.8"/>
<line x1="915.9799999999999" y1="1465.9" x2="930.38" y2="1465.9" stroke="#000" stroke-width="1.8"/>
<line x1="846.3" y1="1438.3" x2="846.3" y2="1503.9" stroke="#2136f2" stroke-width="1.8"/>
<line x1="839.0999999999999" y1="1438.3" x2="853.5" y2="1438.3" stroke="#2136f2" stroke-width="1.8"/>
<line x1="839.0999999999999" y1="1503.9" x2="853.5" y2="1503.9" stroke="#2136f2" stroke-width="1.8"/>
<line x1="923.18" y1="1606.1" x2="923.18" y2="1639.9" stroke="#2136f2" stroke-width="1.8"/>
<line x1="915.9799999999999" y1="1606.1" x2="930.38" y2="1606.1" stroke="#2136f2" stroke-width="1.8"/>
<line x1="915.9799999999999" y1="1639.9" x2="930.38" y2="1639.9" stroke="#2136f2" stroke-width="1.8"/>
<line x1="1000.06" y1="1598.6" x2="1000.06" y2="1615.5" stroke="#2136f2" stroke-width="1.8"/>
<line x1="992.8599999999999" y1="1598.6" x2="1007.26" y2="1598.6" stroke="#2136f2" stroke-width="1.8"/>
<line x1="992.8599999999999" y1="1615.5" x2="1007.26" y2="1615.5" stroke="#2136f2" stroke-width="1.8"/>
<line x1="1076.94" y1="1559.1" x2="1076.94" y2="1638.2" stroke="#2136f2" stroke-width="1.8"/>
<line x1="1069.74" y1="1559.1" x2="1084.14" y2="1559.1" stroke="#2136f2" stroke-width="1.8"/>
<line x1="1069.74" y1="1638.2" x2="1084.14" y2="1638.2" stroke="#2136f2" stroke-width="1.8"/>
<line x1="1153.82" y1="1539.6" x2="1153.82" y2="1559.4" stroke="#2136f2" stroke-width="1.8"/>
<line x1="1146.62" y1="1539.6" x2="1161.02" y2="1539.6" stroke="#2136f2" stroke-width="1.8"/>
<line x1="1146.62" y1="1559.4" x2="1161.02" y2="1559.4" stroke="#2136f2" stroke-width="1.8"/>
<line x1="1230.6999999999998" y1="1484.1" x2="1230.6999999999998" y2="1556.8" stroke="#2136f2" stroke-width="1.8"/>
<line x1="1223.4999999999998" y1="1484.1" x2="1237.8999999999999" y2="1484.1" stroke="#2136f2" stroke-width="1.8"/>
<line x1="1223.4999999999998" y1="1556.8" x2="1237.8999999999999" y2="1556.8" stroke="#2136f2" stroke-width="1.8"/>
<line x1="846.3" y1="1446.8" x2="846.3" y2="1540.6" stroke="#6cc534" stroke-width="1.8"/>
<line x1="839.0999999999999" y1="1446.8" x2="853.5" y2="1446.8" stroke="#6cc534" stroke-width="1.8"/>
<line x1="839.0999999999999" y1="1540.6" x2="853.5" y2="1540.6" stroke="#6cc534" stroke-width="1.8"/>
<line x1="923.18" y1="1606.1" x2="923.18" y2="1624.6" stroke="#6cc534" stroke-width="1.8"/>
<line x1="915.9799999999999" y1="1606.1" x2="930.38" y2="1606.1" stroke="#6cc534" stroke-width="1.8"/>
<line x1="915.9799999999999" y1="1624.6" x2="930.38" y2="1624.6" stroke="#6cc534" stroke-width="1.8"/>
<line x1="1000.06" y1="1598.3" x2="1000.06" y2="1615.8" stroke="#6cc534" stroke-width="1.8"/>
<line x1="992.8599999999999" y1="1598.3" x2="1007.26" y2="1598.3" stroke="#6cc534" stroke-width="1.8"/>
<line x1="992.8599999999999" y1="1615.8" x2="1007.26" y2="1615.8" stroke="#6cc534" stroke-width="1.8"/>
<line x1="1076.94" y1="1573.3" x2="1076.94" y2="1613.3" stroke="#6cc534" stroke-width="1.8"/>
<line x1="1069.74" y1="1573.3" x2="1084.14" y2="1573.3" stroke="#6cc534" stroke-width="1.8"/>
<line x1="1069.74" y1="1613.3" x2="1084.14" y2="1613.3" stroke="#6cc534" stroke-width="1.8"/>
<line x1="1153.82" y1="1556.8" x2="1153.82" y2="1576.9" stroke="#6cc534" stroke-width="1.8"/>
<line x1="1146.62" y1="1556.8" x2="1161.02" y2="1556.8" stroke="#6cc534" stroke-width="1.8"/>
<line x1="1146.62" y1="1576.9" x2="1161.02" y2="1576.9" stroke="#6cc534" stroke-width="1.8"/>
<line x1="1230.6999999999998" y1="1486.0" x2="1230.6999999999998" y2="1587.0" stroke="#6cc534" stroke-width="1.8"/>
<line x1="1223.4999999999998" y1="1486.0" x2="1237.8999999999999" y2="1486.0" stroke="#6cc534" stroke-width="1.8"/>
<line x1="1223.4999999999998" y1="1587.0" x2="1237.8999999999999" y2="1587.0" stroke="#6cc534" stroke-width="1.8"/>
<polyline points="846.3,1436.1 923.18,1446.8 1000.06,1436.1 1076.94,1436.1 1153.82,1436.1 1230.6999999999998,1436.1" fill="none" stroke="#000" stroke-width="3" stroke-linejoin="round"/>
<circle cx="846.3" cy="1436.1" r="6.3" fill="#000"/>
<circle cx="923.18" cy="1446.8" r="6.3" fill="#000"/>
<circle cx="1000.06" cy="1436.1" r="6.3" fill="#000"/>
<circle cx="1076.94" cy="1436.1" r="6.3" fill="#000"/>
<circle cx="1153.82" cy="1436.1" r="6.3" fill="#000"/>
<circle cx="1230.6999999999998" cy="1436.1" r="6.3" fill="#000"/>
<polyline points="846.3,1436.1 923.18,1478.3 1000.06,1478.3 1076.94,1458.8 1153.82,1439.3 1230.6999999999998,1439.3" fill="none" stroke="#e0311c" stroke-width="3" stroke-linejoin="round"/>
<circle cx="846.3" cy="1436.1" r="6.3" fill="#e0311c"/>
<circle cx="923.18" cy="1478.3" r="6.3" fill="#e0311c"/>
<circle cx="1000.06" cy="1478.3" r="6.3" fill="#e0311c"/>
<circle cx="1076.94" cy="1458.8" r="6.3" fill="#e0311c"/>
<circle cx="1153.82" cy="1439.3" r="6.3" fill="#e0311c"/>
<circle cx="1230.6999999999998" cy="1439.3" r="6.3" fill="#e0311c"/>
<polyline points="846.3,1471.1 923.18,1622.7 1000.06,1606.4 1076.94,1598.3 1153.82,1549.7 1230.6999999999998,1519.8" fill="none" stroke="#2136f2" stroke-width="3" stroke-linejoin="round"/>
<circle cx="846.3" cy="1471.1" r="6.3" fill="#2136f2"/>
<circle cx="923.18" cy="1622.7" r="6.3" fill="#2136f2"/>
<circle cx="1000.06" cy="1606.4" r="6.3" fill="#2136f2"/>
<circle cx="1076.94" cy="1598.3" r="6.3" fill="#2136f2"/>
<circle cx="1153.82" cy="1549.7" r="6.3" fill="#2136f2"/>
<circle cx="1230.6999999999998" cy="1519.8" r="6.3" fill="#2136f2"/>
<polyline points="846.3,1492.9 923.18,1614.6 1000.06,1606.4 1076.94,1592.8 1153.82,1565.9 1230.6999999999998,1536.0" fill="none" stroke="#6cc534" stroke-width="3" stroke-linejoin="round"/>
<circle cx="846.3" cy="1492.9" r="6.3" fill="#6cc534"/>
<circle cx="923.18" cy="1614.6" r="6.3" fill="#6cc534"/>
<circle cx="1000.06" cy="1606.4" r="6.3" fill="#6cc534"/>
<circle cx="1076.94" cy="1592.8" r="6.3" fill="#6cc534"/>
<circle cx="1153.82" cy="1565.9" r="6.3" fill="#6cc534"/>
<circle cx="1230.6999999999998" cy="1536.0" r="6.3" fill="#6cc534"/>
<line x1="795.6" y1="1386" x2="795.6" y2="1713.4" stroke="#000" stroke-width="3"/>
<line x1="781.8" y1="1711.9" x2="1282.1" y2="1711.9" stroke="#000" stroke-width="3"/>
<line x1="782.0" y1="1711.9" x2="795.6" y2="1711.9" stroke="#000" stroke-width="3"/>
<text x="776.2" y="1720.8" font-size="25" text-anchor="end" fill="#000">0</text>
<line x1="782.0" y1="1647.0" x2="795.6" y2="1647.0" stroke="#000" stroke-width="3"/>
<text x="776.2" y="1655.9" font-size="25" text-anchor="end" fill="#000">20</text>
<line x1="782.0" y1="1582.1" x2="795.6" y2="1582.1" stroke="#000" stroke-width="3"/>
<text x="776.2" y="1591.0" font-size="25" text-anchor="end" fill="#000">40</text>
<line x1="782.0" y1="1517.2" x2="795.6" y2="1517.2" stroke="#000" stroke-width="3"/>
<text x="776.2" y="1526.1" font-size="25" text-anchor="end" fill="#000">60</text>
<line x1="782.0" y1="1452.3" x2="795.6" y2="1452.3" stroke="#000" stroke-width="3"/>
<text x="776.2" y="1461.2" font-size="25" text-anchor="end" fill="#000">80</text>
<line x1="782.0" y1="1387.4" x2="795.6" y2="1387.4" stroke="#000" stroke-width="3"/>
<text x="776.2" y="1396.3" font-size="25" text-anchor="end" fill="#000">100</text>
<line x1="846.3" y1="1711.9" x2="846.3" y2="1725.7" stroke="#000" stroke-width="3"/>
<text x="846.3" y="1754.1" font-size="25" text-anchor="middle" fill="#000">6.0</text>
<line x1="923.18" y1="1711.9" x2="923.18" y2="1725.7" stroke="#000" stroke-width="3"/>
<text x="923.18" y="1754.1" font-size="25" text-anchor="middle" fill="#000">12.4</text>
<line x1="1000.06" y1="1711.9" x2="1000.06" y2="1725.7" stroke="#000" stroke-width="3"/>
<text x="1000.06" y="1754.1" font-size="25" text-anchor="middle" fill="#000">18.0</text>
<line x1="1076.94" y1="1711.9" x2="1076.94" y2="1725.7" stroke="#000" stroke-width="3"/>
<text x="1076.94" y="1754.1" font-size="25" text-anchor="middle" fill="#000">24.0</text>
<line x1="1153.82" y1="1711.9" x2="1153.82" y2="1725.7" stroke="#000" stroke-width="3"/>
<text x="1153.82" y="1754.1" font-size="25" text-anchor="middle" fill="#000">30.2</text>
<line x1="1230.6999999999998" y1="1711.9" x2="1230.6999999999998" y2="1725.7" stroke="#000" stroke-width="3"/>
<text x="1230.6999999999998" y="1754.1" font-size="25" text-anchor="middle" fill="#000">35.0</text>
<text x="0" y="0" font-size="26.3" text-anchor="middle" transform="translate(715.5,1549.6) rotate(-90) scale(1,1.06)">DPOAE threshold (dB SPL)</text>
<text x="1039.5" y="1791.8" font-size="26.5" text-anchor="middle" fill="#000">Frequency (kHz)</text>
<line x1="843.3" y1="1400.8" x2="1241.8" y2="1400.8" stroke="#000" stroke-width="2.0"/>
<text x="1060" y="1385.8" font-size="27" text-anchor="middle" fill="#000">ns</text>
<line x1="62.2" y1="1836.3" x2="106.7" y2="1836.3" stroke="#6cc534" stroke-width="3"/>
<circle cx="84.45" cy="1836.3" r="6.2" fill="#6cc534"/>
<text x="129.2" y="1849.8" font-size="31" fill="#000"><tspan font-style="italic">Syne4</tspan><tspan font-style="italic" font-size="22.6" dy="-11.4">+/-</tspan></text>
<line x1="257.8" y1="1836.5" x2="300.7" y2="1836.5" stroke="#e0311c" stroke-width="3"/>
<circle cx="279.25" cy="1836.5" r="6.2" fill="#e0311c"/>
<text x="323.5" y="1849.8" font-size="31" fill="#000"><tspan font-style="italic">Syne4</tspan><tspan font-style="italic" font-size="22.6" dy="-11.4">-/-</tspan></text>
<line x1="465.0" y1="1835.7" x2="509.3" y2="1835.7" stroke="#2136f2" stroke-width="3"/>
<circle cx="487.15" cy="1835.7" r="6.2" fill="#2136f2"/>
<text x="530.8" y="1849.8" font-size="31" fill="#000"><tspan font-style="italic">Syne4</tspan><tspan font-style="italic" font-size="22.6" dy="-11.4">-/-</tspan><tspan dy="11.4"> + AAV.Syne4</tspan><tspan font-size="22.6" dy="-11.4">WT</tspan></text>
<line x1="885.0" y1="1835.7" x2="930.0" y2="1835.7" stroke="#000" stroke-width="3"/>
<circle cx="907.5" cy="1835.7" r="6.2" fill="#000"/>
<text x="951.8" y="1849.8" font-size="31" fill="#000"><tspan font-style="italic">Syne4</tspan><tspan font-style="italic" font-size="22.6" dy="-11.4">-/-</tspan><tspan dy="11.4"> + AAV.Syne4</tspan><tspan font-size="22.6" dy="-11.4">AA</tspan></text>
</svg>
</body></html>
